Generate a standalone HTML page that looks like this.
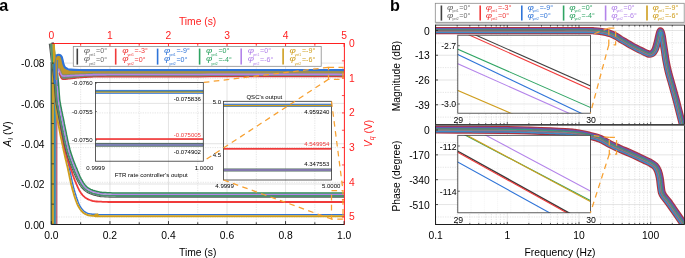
<!DOCTYPE html>
<html><head><meta charset="utf-8"><style>
html,body{margin:0;padding:0;background:#fff;}
body{width:685px;height:258px;overflow:hidden;}
svg{display:block;will-change:transform;}
</style></head><body>
<svg width="685" height="258" viewBox="0 0 685 258">
<rect width="685" height="258" fill="#fff"/>
<line x1="80.67" y1="43.50" x2="80.67" y2="224.50" stroke="#d2d2d2" stroke-width="0.6" stroke-dasharray="1.2,1.2"/>
<line x1="109.94" y1="43.50" x2="109.94" y2="224.50" stroke="#d2d2d2" stroke-width="0.6"/>
<line x1="139.21" y1="43.50" x2="139.21" y2="224.50" stroke="#d2d2d2" stroke-width="0.6" stroke-dasharray="1.2,1.2"/>
<line x1="168.48" y1="43.50" x2="168.48" y2="224.50" stroke="#d2d2d2" stroke-width="0.6"/>
<line x1="197.75" y1="43.50" x2="197.75" y2="224.50" stroke="#d2d2d2" stroke-width="0.6" stroke-dasharray="1.2,1.2"/>
<line x1="227.02" y1="43.50" x2="227.02" y2="224.50" stroke="#d2d2d2" stroke-width="0.6"/>
<line x1="256.29" y1="43.50" x2="256.29" y2="224.50" stroke="#d2d2d2" stroke-width="0.6" stroke-dasharray="1.2,1.2"/>
<line x1="285.56" y1="43.50" x2="285.56" y2="224.50" stroke="#d2d2d2" stroke-width="0.6"/>
<line x1="314.83" y1="43.50" x2="314.83" y2="224.50" stroke="#d2d2d2" stroke-width="0.6" stroke-dasharray="1.2,1.2"/>
<line x1="51.50" y1="184.00" x2="344.40" y2="184.00" stroke="#d2d2d2" stroke-width="0.6"/>
<line x1="51.50" y1="143.70" x2="344.40" y2="143.70" stroke="#d2d2d2" stroke-width="0.6"/>
<line x1="51.50" y1="103.40" x2="344.40" y2="103.40" stroke="#d2d2d2" stroke-width="0.6"/>
<line x1="51.50" y1="63.10" x2="344.40" y2="63.10" stroke="#d2d2d2" stroke-width="0.6"/>
<line x1="51.50" y1="78.20" x2="344.40" y2="78.20" stroke="#d2d2d2" stroke-width="0.6" stroke-dasharray="1.2,1.2"/>
<line x1="51.50" y1="112.90" x2="344.40" y2="112.90" stroke="#d2d2d2" stroke-width="0.6" stroke-dasharray="1.2,1.2"/>
<line x1="51.50" y1="147.60" x2="344.40" y2="147.60" stroke="#d2d2d2" stroke-width="0.6" stroke-dasharray="1.2,1.2"/>
<line x1="51.50" y1="182.30" x2="344.40" y2="182.30" stroke="#d2d2d2" stroke-width="0.6" stroke-dasharray="1.2,1.2"/>
<line x1="51.50" y1="217.00" x2="344.40" y2="217.00" stroke="#d2d2d2" stroke-width="0.6" stroke-dasharray="1.2,1.2"/>
<line x1="51.50" y1="43.50" x2="51.50" y2="224.50" stroke="#1e1e1e" stroke-width="1.0"/>
<rect x="50.5" y="62" width="1.30" height="162.50" fill="#3a6f6a"/>
<rect x="51.8" y="62" width="2.10" height="162.50" fill="#cf9e1e"/>
<rect x="53.9" y="62" width="2.00" height="162.50" fill="#3a8aa8"/>
<rect x="55.9" y="62" width="0.30" height="162.50" fill="#8a7a70"/>
<rect x="56.2" y="62" width="1.20" height="162.50" fill="#b04a62"/>
<path d="M52.4,43.4 52.5,44.3 52.5,45.5 52.6,46.8 52.7,48.3 52.9,49.9 53.0,51.6 53.1,53.3 53.2,55.1 53.4,56.9 53.5,58.7 53.7,60.4 53.8,61.9 53.9,63.4 54.1,65.0 54.2,66.5 54.4,68.0 54.6,69.5 54.7,71.0 54.9,72.5 55.0,74.0 55.2,75.5 55.3,77.0 55.5,78.5 55.6,79.9 55.7,81.4 55.8,83.0 55.9,84.5 56.0,86.1 56.1,87.6 56.2,89.1 56.2,90.6 56.3,92.1 56.4,93.4 56.5,94.7 56.5,95.9 56.6,96.9 56.7,98.6 56.8,99.7 56.9,100.5 57.0,101.3 57.1,102.3 57.3,103.9 57.4,104.9 57.5,105.9 57.6,107.0 57.7,108.1 57.8,109.2 57.9,110.5 58.1,111.8 58.2,113.2 58.4,114.7 58.6,116.3 58.9,118.0 59.2,119.9 59.5,121.9 60.0,124.2 60.4,126.6 60.9,129.2 61.5,131.9 62.0,134.6 62.6,137.3 63.1,140.1 63.7,142.7 64.2,145.3 64.7,147.6 65.2,149.8 65.6,151.9 66.0,153.8 66.5,155.6 66.9,157.4 67.3,159.1 67.7,160.8 68.0,162.3 68.4,163.9 68.8,165.4 69.1,166.9 69.5,168.4 69.8,169.8 70.1,171.3 70.4,172.6 70.7,173.9 70.9,175.2 71.2,176.4 71.4,177.7 71.6,178.8 71.9,180.0 72.1,181.2 72.4,182.4 72.7,183.6 73.0,184.8 73.3,186.1 73.6,187.4 74.0,188.7 74.3,190.0 74.7,191.3 75.1,192.7 75.5,193.9 75.9,195.2 76.2,196.4 76.6,197.6 77.0,198.7 77.4,199.7 77.9,201.2 78.4,202.5 78.9,203.7 79.4,204.8 79.9,205.8 80.5,206.8 81.0,207.7 81.6,208.5 82.4,209.4 83.1,210.3 83.8,211.0 84.6,211.6 85.4,212.2 86.3,212.7 87.3,213.2 88.2,213.5 89.1,213.7 90.0,213.9 91.0,214.0 92.2,214.2 93.5,214.2 95.1,214.3 97.0,214.4 97.9,214.5 97.8,216.1 97.2,216.1 96.3,216.2 95.5,216.2 95.6,214.7 95.5,214.6 97.0,214.6 99.8,214.6 104.4,214.6 111.0,214.6 120.0,214.6 132.3,214.6 148.3,214.6 167.1,214.6 188.1,214.6 210.5,214.6 233.5,214.6 256.4,214.6 278.6,214.6 299.1,214.6 317.4,214.6 332.6,214.6 344.1,214.6" stroke="#2f74d8" stroke-width="1.4" fill="none" stroke-linejoin="round" stroke-linecap="butt"/>
<path d="M50.8,43.6 50.9,44.5 50.9,45.6 51.0,46.9 51.2,48.4 51.3,50.0 51.4,51.7 51.5,53.4 51.7,55.2 51.8,57.0 51.9,58.8 52.1,60.5 52.2,62.1 52.3,63.6 52.5,65.1 52.6,66.6 52.8,68.2 53.0,69.7 53.1,71.2 53.3,72.7 53.4,74.2 53.6,75.7 53.7,77.1 53.9,78.6 54.0,80.1 54.1,81.5 54.2,83.1 54.3,84.6 54.4,86.2 54.5,87.7 54.6,89.2 54.6,90.7 54.7,92.2 54.8,93.5 54.9,94.8 54.9,96.0 55.0,97.1 55.1,98.7 55.2,99.8 55.3,100.6 55.4,101.5 55.5,102.5 55.7,104.1 55.8,105.1 55.9,106.1 56.0,107.1 56.1,108.2 56.2,109.4 56.3,110.6 56.5,112.0 56.6,113.4 56.8,114.9 57.0,116.5 57.3,118.3 57.6,120.1 58.0,122.2 58.4,124.5 58.9,126.9 59.4,129.5 59.9,132.2 60.4,134.9 61.0,137.7 61.6,140.4 62.1,143.0 62.7,145.6 63.2,148.0 63.6,150.2 64.1,152.2 64.5,154.1 64.9,156.0 65.3,157.8 65.7,159.5 66.1,161.1 66.5,162.7 66.8,164.3 67.2,165.8 67.6,167.3 67.9,168.7 68.2,170.2 68.5,171.6 68.8,173.0 69.1,174.3 69.3,175.5 69.6,176.8 69.8,178.0 70.1,179.2 70.3,180.3 70.6,181.5 70.8,182.7 71.1,184.0 71.4,185.2 71.8,186.5 72.1,187.8 72.4,189.1 72.8,190.4 73.2,191.8 73.6,193.1 73.9,194.4 74.3,195.7 74.7,196.9 75.1,198.1 75.5,199.2 75.8,200.3 76.4,201.7 76.9,203.1 77.4,204.3 78.0,205.5 78.5,206.6 79.1,207.6 79.7,208.6 80.4,209.5 81.1,210.5 81.9,211.3 82.7,212.2 83.6,212.9 84.5,213.6 85.6,214.1 86.7,214.6 87.7,215.0 88.7,215.3 89.8,215.5 90.8,215.6 92.1,215.7 93.4,215.8 95.1,215.9 97.0,216.0 97.7,216.0 97.7,214.5 97.1,214.5 96.2,214.6 95.5,214.6 94.7,216.1 95.5,216.2 97.0,216.2 99.8,216.2 104.4,216.2 111.0,216.2 120.0,216.2 132.3,216.2 148.3,216.2 167.1,216.2 188.1,216.2 210.5,216.2 233.5,216.2 256.4,216.2 278.6,216.2 299.1,216.2 317.4,216.2 332.6,216.2 344.1,216.2" stroke="#cf9e1e" stroke-width="1.9" fill="none" stroke-linejoin="round" stroke-linecap="butt"/>
<path d="M51.6,43.5 51.7,44.4 51.8,45.5 51.9,46.8 52.1,48.3 52.2,49.9 52.4,51.6 52.5,53.4 52.7,55.2 52.9,57.0 53.1,58.7 53.2,60.4 53.4,62.0 53.6,63.5 53.7,65.0 53.9,66.6 54.1,68.1 54.3,69.6 54.4,71.1 54.6,72.6 54.8,74.1 55.0,75.6 55.1,77.1 55.3,78.5 55.4,80.0 55.5,81.5 55.6,83.0 55.7,84.6 55.8,86.1 55.9,87.7 56.0,89.2 56.0,90.7 56.1,92.1 56.2,93.5 56.3,94.8 56.3,95.9 56.4,97.0 56.5,98.6 56.6,99.7 56.7,100.6 56.8,101.4 57.0,102.4 57.2,104.0 57.3,105.0 57.5,106.0 57.7,107.0 57.8,108.1 58.0,109.3 58.2,110.6 58.4,111.9 58.7,113.3 58.9,114.8 59.2,116.4 59.5,118.1 59.8,120.0 60.2,122.0 60.5,124.3 60.9,126.8 61.4,129.3 61.8,132.0 62.3,134.8 62.8,137.5 63.3,140.2 63.7,142.9 64.2,145.4 64.7,147.8 65.2,150.0 65.7,152.0 66.2,154.0 66.7,155.8 67.2,157.6 67.7,159.3 68.2,160.9 68.7,162.5 69.2,164.1 69.7,165.6 70.2,167.1 70.7,168.5 71.2,170.0 71.7,171.4 72.2,172.8 72.6,174.2 73.1,175.6 73.6,176.9 74.0,178.1 74.5,179.4 74.9,180.6 75.4,181.7 75.9,182.8 76.3,183.9 76.8,185.0 77.4,186.4 78.0,187.7 78.6,188.9 79.2,190.1 79.8,191.2 80.5,192.2 81.1,193.2 81.8,194.1 82.5,195.0 83.3,195.9 84.2,196.7 85.0,197.4 85.9,198.0 86.9,198.6 87.8,199.1 88.9,199.6 90.0,200.0 90.9,200.3 91.7,200.6 92.4,200.9 93.1,201.1 94.0,201.2 95.1,201.4 96.6,201.5 98.5,201.6 101.0,201.7 102.7,201.8 104.0,201.8 104.9,201.9 105.8,201.9 106.9,201.9 108.4,202.0 110.6,202.0 113.7,202.0 118.0,202.0 123.6,202.0 130.9,202.0 140.0,202.0 151.9,202.0 166.8,202.0 184.2,202.0 203.4,202.0 223.7,202.0 244.5,202.0 265.2,202.0 285.1,202.0 303.6,202.0 320.0,202.0 333.7,202.0 344.1,202.0" stroke="#f03a3a" stroke-width="1.8" fill="none" stroke-linejoin="round" stroke-linecap="butt"/>
<path d="M49.3,43.8 49.4,44.7 49.6,45.8 49.7,47.1 49.9,48.6 50.1,50.2 50.3,51.9 50.5,53.7 50.7,55.5 50.9,57.3 51.1,59.0 51.3,60.7 51.5,62.3 51.7,63.8 51.9,65.4 52.1,66.9 52.3,68.4 52.6,69.9 52.8,71.4 53.0,72.9 53.2,74.4 53.4,75.9 53.6,77.3 53.8,78.8 53.9,80.2 54.1,81.7 54.2,83.2 54.3,84.7 54.4,86.3 54.5,87.8 54.6,89.3 54.7,90.8 54.8,92.3 54.9,93.6 55.0,94.9 55.1,96.1 55.2,97.2 55.4,98.8 55.5,100.0 55.5,100.8 55.7,101.7 55.9,102.8 56.1,104.4 56.3,105.4 56.5,106.4 56.7,107.5 56.9,108.6 57.2,109.8 57.4,111.0 57.7,112.3 58.0,113.8 58.3,115.3 58.6,116.9 59.0,118.6 59.3,120.5 59.8,122.5 60.2,124.8 60.7,127.2 61.2,129.8 61.7,132.5 62.3,135.2 62.9,138.0 63.4,140.7 64.0,143.4 64.6,145.9 65.2,148.4 65.8,150.6 66.4,152.7 67.0,154.7 67.6,156.6 68.2,158.4 68.9,160.2 69.5,161.9 70.1,163.5 70.7,165.1 71.3,166.6 71.9,168.1 72.5,169.5 73.1,170.9 73.6,172.3 74.2,173.7 74.8,175.0 75.3,176.2 75.8,177.4 76.3,178.6 76.9,179.7 77.4,180.7 77.9,181.8 78.5,182.7 79.0,183.7 79.8,184.9 80.5,186.0 81.3,187.1 82.0,188.0 82.9,188.9 83.7,189.8 84.7,190.6 85.7,191.4 86.7,192.1 87.8,192.7 89.0,193.3 90.1,193.8 91.4,194.3 92.7,194.7 94.0,195.1 95.5,195.4 96.4,195.7 97.2,195.9 97.9,196.1 98.7,196.2 99.6,196.4 100.6,196.6 101.8,196.7 103.3,196.8 105.1,196.9 107.3,197.0 109.9,197.1 112.4,197.2 114.7,197.2 116.8,197.3 119.0,197.3 121.5,197.3 124.4,197.3 127.8,197.3 132.1,197.3 137.2,197.3 143.5,197.3 151.0,197.3 160.0,197.3 171.2,197.3 185.1,197.3 200.9,197.3 218.3,197.3 236.5,197.3 255.2,197.3 273.7,197.3 291.4,197.3 307.9,197.3 322.5,197.3 334.8,197.3 344.1,197.3" stroke="#555555" stroke-width="1.1" fill="none" stroke-linejoin="round" stroke-linecap="butt"/>
<path d="M50.7,43.6 50.8,44.5 50.9,45.6 51.1,46.9 51.3,48.4 51.5,50.0 51.7,51.7 51.9,53.5 52.1,55.3 52.3,57.1 52.5,58.8 52.7,60.5 52.9,62.1 53.1,63.6 53.3,65.2 53.5,66.7 53.7,68.2 54.0,69.7 54.2,71.2 54.4,72.7 54.6,74.2 54.8,75.7 55.0,77.2 55.1,78.6 55.3,80.1 55.5,81.6 55.6,83.1 55.7,84.6 55.8,86.2 55.9,87.7 56.0,89.2 56.1,90.7 56.2,92.2 56.3,93.5 56.4,94.8 56.5,96.0 56.6,97.1 56.8,98.7 56.8,99.8 56.9,100.7 57.1,101.5 57.2,102.6 57.5,104.2 57.7,105.1 57.9,106.1 58.1,107.2 58.3,108.3 58.5,109.5 58.8,110.7 59.0,112.1 59.3,113.5 59.6,115.0 60.0,116.6 60.3,118.3 60.7,120.2 61.1,122.2 61.6,124.5 62.1,126.9 62.6,129.5 63.1,132.2 63.7,134.9 64.2,137.7 64.8,140.4 65.4,143.1 66.0,145.6 66.6,148.0 67.1,150.2 67.7,152.3 68.3,154.3 68.9,156.2 69.5,158.0 70.2,159.7 70.8,161.4 71.4,163.0 72.0,164.6 72.6,166.1 73.2,167.6 73.8,169.0 74.4,170.3 74.9,171.8 75.5,173.1 76.0,174.4 76.6,175.7 77.1,176.9 77.6,178.0 78.1,179.1 78.6,180.1 79.2,181.1 79.7,182.0 80.2,183.0 81.0,184.1 81.7,185.2 82.4,186.2 83.1,187.1 83.9,188.0 84.7,188.8 85.5,189.5 86.5,190.2 87.5,190.9 88.5,191.5 89.6,192.0 90.7,192.5 91.8,193.0 93.1,193.4 94.4,193.7 95.8,194.1 96.7,194.3 97.5,194.5 98.3,194.7 99.0,194.9 99.8,195.0 100.8,195.2 102.0,195.3 103.4,195.4 105.2,195.5 107.3,195.6 110.0,195.7 112.5,195.8 114.7,195.8 116.8,195.9 119.0,195.9 121.5,195.9 124.4,195.9 127.8,195.9 132.1,195.9 137.2,195.9 143.5,195.9 151.0,195.9 160.0,195.9 171.2,195.9 185.1,195.9 200.9,195.9 218.3,195.9 236.5,195.9 255.2,195.9 273.7,195.9 291.4,195.9 307.9,195.9 322.5,195.9 334.8,195.9 344.1,195.9" stroke="#4a9070" stroke-width="2.0" fill="none" stroke-linejoin="round" stroke-linecap="butt"/>
<path d="M52.3,43.4 52.4,44.3 52.5,45.4 52.7,46.8 52.9,48.2 53.0,49.8 53.2,51.5 53.5,53.3 53.7,55.1 53.9,56.9 54.1,58.6 54.3,60.3 54.5,61.9 54.7,63.4 54.9,64.9 55.1,66.5 55.3,68.0 55.5,69.5 55.7,71.0 56.0,72.5 56.2,74.0 56.4,75.5 56.6,77.0 56.7,78.5 56.9,79.9 57.0,81.4 57.2,82.9 57.3,84.5 57.4,86.1 57.5,87.6 57.6,89.1 57.7,90.6 57.8,92.1 57.9,93.4 58.0,94.7 58.1,95.9 58.2,96.9 58.3,98.6 58.4,99.7 58.5,100.5 58.6,101.3 58.8,102.3 59.1,103.9 59.3,104.8 59.5,105.9 59.7,106.9 59.9,108.0 60.1,109.2 60.3,110.4 60.6,111.7 60.9,113.2 61.2,114.7 61.5,116.3 61.9,118.0 62.3,119.9 62.7,121.9 63.2,124.2 63.6,126.6 64.2,129.2 64.7,131.9 65.2,134.6 65.8,137.4 66.4,140.1 67.0,142.7 67.5,145.3 68.1,147.6 68.7,149.8 69.2,151.8 69.8,153.8 70.4,155.7 71.1,157.5 71.7,159.2 72.3,160.8 72.9,162.5 73.5,164.0 74.1,165.5 74.7,167.0 75.3,168.4 75.8,169.7 76.4,171.2 77.0,172.5 77.5,173.8 78.0,175.1 78.6,176.2 79.1,177.3 79.6,178.4 80.1,179.4 80.6,180.3 81.1,181.3 81.6,182.1 82.3,183.3 83.0,184.3 83.7,185.3 84.3,186.1 85.0,186.9 85.8,187.6 86.5,188.3 87.4,188.9 88.3,189.5 89.3,190.1 90.2,190.6 91.3,191.0 92.4,191.5 93.5,191.8 94.8,192.2 96.2,192.5 97.1,192.8 97.9,193.0 98.7,193.1 99.4,193.3 100.1,193.5 101.0,193.6 102.1,193.7 103.5,193.8 105.2,193.9 107.4,194.0 110.0,194.1 112.5,194.2 114.7,194.2 116.8,194.3 119.0,194.3 121.5,194.3 124.4,194.3 127.8,194.3 132.1,194.3 137.2,194.3 143.5,194.3 151.0,194.3 160.0,194.3 171.2,194.3 185.1,194.3 200.9,194.3 218.3,194.3 236.5,194.3 255.2,194.3 273.7,194.3 291.4,194.3 307.9,194.3 322.5,194.3 334.8,194.3 344.1,194.3" stroke="#b383ea" stroke-width="1.4" fill="none" stroke-linejoin="round" stroke-linecap="butt"/>
<path d="M53.6,43.3 53.7,44.2 53.8,45.3 54.0,46.6 54.1,48.1 54.3,49.7 54.5,51.4 54.7,53.2 55.0,54.9 55.2,56.7 55.4,58.5 55.6,60.2 55.8,61.7 56.0,63.3 56.2,64.8 56.4,66.3 56.6,67.8 56.8,69.3 57.0,70.8 57.2,72.3 57.5,73.8 57.7,75.3 57.8,76.8 58.0,78.3 58.2,79.8 58.3,81.3 58.5,82.8 58.6,84.4 58.7,86.0 58.8,87.5 58.9,89.1 59.0,90.5 59.1,92.0 59.2,93.3 59.3,94.6 59.4,95.8 59.5,96.8 59.6,98.5 59.7,99.5 59.8,100.3 59.9,101.1 60.1,102.1 60.4,103.6 60.5,104.6 60.7,105.6 60.9,106.7 61.1,107.8 61.4,108.9 61.6,110.2 61.9,111.5 62.2,112.9 62.5,114.4 62.8,116.0 63.2,117.7 63.6,119.6 64.0,121.6 64.4,123.9 64.9,126.4 65.4,128.9 66.0,131.6 66.5,134.4 67.1,137.1 67.6,139.8 68.2,142.4 68.8,145.0 69.4,147.3 69.9,149.5 70.5,151.5 71.1,153.4 71.7,155.2 72.3,157.0 72.9,158.7 73.5,160.4 74.1,162.0 74.7,163.5 75.3,165.0 75.9,166.5 76.5,167.9 77.1,169.3 77.6,170.7 78.2,172.0 78.7,173.3 79.2,174.5 79.7,175.7 80.2,176.8 80.7,177.8 81.2,178.8 81.7,179.7 82.2,180.6 82.7,181.5 83.4,182.6 84.1,183.6 84.7,184.5 85.3,185.3 86.0,186.0 86.6,186.6 87.4,187.3 88.2,187.9 89.0,188.4 89.9,189.0 90.8,189.4 91.8,189.8 92.8,190.2 93.9,190.6 95.1,190.9 96.5,191.3 97.4,191.5 98.3,191.7 99.0,191.9 99.6,192.0 100.3,192.2 101.2,192.3 102.2,192.4 103.6,192.5 105.3,192.6 107.4,192.7 110.1,192.8 112.5,192.9 114.7,192.9 116.9,193.0 119.1,193.0 121.5,193.0 124.4,193.0 127.8,193.0 132.1,193.0 137.2,193.0 143.5,193.0 151.0,193.0 160.0,193.0 171.2,193.0 185.1,193.0 200.9,193.0 218.3,193.0 236.5,193.0 255.2,193.0 273.7,193.0 291.4,193.0 307.9,193.0 322.5,193.0 334.8,193.0 344.1,193.0" stroke="#2f8a58" stroke-width="1.5" fill="none" stroke-linejoin="round" stroke-linecap="butt"/>
<path d="M54.60,80.00 C54.60,76.67 54.47,63.90 54.60,60.00 C54.73,56.10 54.93,57.43 55.40,56.60 C55.87,55.77 56.67,55.25 57.40,55.00 C58.13,54.75 59.12,54.83 59.80,55.10 C60.48,55.37 61.05,55.82 61.50,56.60 C61.95,57.38 62.20,58.63 62.50,59.80 C62.80,60.97 62.95,62.43 63.30,63.60 C63.65,64.77 64.02,65.97 64.60,66.80 C65.18,67.63 65.90,68.13 66.80,68.60 C67.70,69.07 67.80,69.37 70.00,69.60 C72.20,69.83 71.67,69.92 80.00,70.00 C88.33,70.08 75.98,70.08 120.00,70.10 C164.02,70.12 306.75,70.10 344.10,70.10 L344.1,74.5 L344.1,74.5 L336.9,74.4 L327.7,74.4 L316.7,74.4 L304.4,74.4 L291.0,74.4 L277.1,74.4 L262.8,74.4 L248.6,74.4 L234.9,74.4 L222.0,74.4 L210.2,74.4 L200.0,74.5 L190.9,74.5 L182.3,74.5 L174.2,74.5 L166.5,74.5 L159.3,74.5 L152.6,74.5 L146.2,74.5 L140.2,74.5 L134.6,74.5 L129.4,74.5 L124.5,74.5 L120.0,74.5 L116.0,74.5 L112.5,74.5 L109.6,74.5 L107.2,74.5 L105.2,74.6 L103.4,74.6 L101.9,74.6 L100.6,74.6 L99.3,74.6 L98.0,74.6 L96.6,74.7 L95.0,74.7 L93.4,74.7 L91.9,74.8 L90.4,74.8 L89.1,74.8 L87.8,74.9 L86.6,74.9 L85.4,75.0 L84.3,75.0 L83.2,75.1 L82.1,75.1 L81.0,75.2 L80.0,75.2 L78.5,75.3 L77.0,75.3 L75.6,75.4 L74.3,75.5 L73.1,75.5 L72.0,75.6 L70.9,75.6 L70.0,75.7 L68.5,75.8 L67.5,75.9 L66.8,76.0 L66.0,76.0 L65.0,76.0 L64.2,76.1 L63.5,76.0 L62.9,75.9 L62.3,75.7 L61.8,75.4 L61.3,74.9 L60.9,74.3 L60.5,73.6 L60.1,72.8 L59.8,71.9 L59.4,71.0 L59.0,70.1 L58.7,69.2 L58.4,68.6 L57.4,80 Z" fill="#c09628" stroke="none"/>
<path d="M58.4,68.6 58.7,69.2 59.0,70.1 59.4,71.0 59.8,71.9 60.1,72.8 60.5,73.6 60.9,74.3 61.3,74.9 61.8,75.4 62.3,75.7 62.9,75.9 63.5,76.0 64.2,76.1 65.0,76.0 66.0,76.0 66.8,76.0 67.5,75.9 68.5,75.8 70.0,75.7 70.9,75.6 72.0,75.6 73.1,75.5 74.3,75.5 75.6,75.4 77.0,75.3 78.5,75.3 80.0,75.2 81.0,75.2 82.1,75.1 83.2,75.1 84.3,75.0 85.4,75.0 86.6,74.9 87.8,74.9 89.1,74.8 90.4,74.8 91.9,74.8 93.4,74.7 95.0,74.7 96.6,74.7 98.0,74.6 99.3,74.6 100.6,74.6 101.9,74.6 103.4,74.6 105.2,74.6 107.2,74.5 109.6,74.5 112.5,74.5 116.0,74.5 120.0,74.5 124.5,74.5 129.4,74.5 134.6,74.5 140.2,74.5 146.2,74.5 152.6,74.5 159.3,74.5 166.5,74.5 174.2,74.5 182.3,74.5 190.9,74.5 200.0,74.5 210.2,74.4 222.0,74.4 234.9,74.4 248.6,74.4 262.8,74.4 277.1,74.4 291.0,74.4 304.4,74.4 316.7,74.4 327.7,74.4 336.9,74.4 344.1,74.5 L344.1,76.8 L336.9,76.7 L327.7,76.7 L316.7,76.7 L304.4,76.7 L291.0,76.7 L277.1,76.7 L262.8,76.7 L248.6,76.7 L234.9,76.7 L222.0,76.7 L210.2,76.7 L200.0,76.8 L190.9,76.8 L182.3,76.8 L174.2,76.8 L166.5,76.8 L159.3,76.8 L152.6,76.8 L146.2,76.8 L140.2,76.8 L134.6,76.8 L129.4,76.8 L124.5,76.8 L120.0,76.8 L116.0,76.8 L112.5,76.8 L109.6,76.8 L107.2,76.8 L105.2,76.8 L103.4,76.9 L101.9,76.9 L100.6,76.9 L99.3,76.9 L98.0,76.9 L96.6,77.0 L95.0,77.0 L93.4,77.0 L91.9,77.1 L90.4,77.1 L89.1,77.2 L87.8,77.2 L86.6,77.3 L85.4,77.4 L84.3,77.4 L83.2,77.5 L82.1,77.6 L81.0,77.6 L80.0,77.7 L78.5,77.8 L77.0,78.0 L75.7,78.1 L74.4,78.3 L73.2,78.4 L72.0,78.6 L71.0,78.7 L70.0,78.8 L68.6,79.0 L67.5,79.1 L66.6,79.2 L65.8,79.3 L65.0,79.4 L64.0,79.5 L63.2,79.4 L62.6,79.3 L62.1,79.1 L61.6,78.7 L61.2,78.2 L60.7,77.5 L60.3,76.6 L59.9,75.6 L59.6,74.8 L59.3,73.9 L59.1,73.1 L58.9,72.5 Z" fill="#6d8a74" stroke="none"/>
<path d="M54.60,60.00 C54.73,59.43 54.93,57.43 55.40,56.60 C55.87,55.77 56.67,55.25 57.40,55.00 C58.13,54.75 59.12,54.83 59.80,55.10 C60.48,55.37 61.05,55.82 61.50,56.60 C61.95,57.38 62.20,58.63 62.50,59.80 C62.80,60.97 62.95,62.43 63.30,63.60 C63.65,64.77 64.02,65.97 64.60,66.80 C65.18,67.63 65.90,68.13 66.80,68.60 C67.70,69.07 67.80,69.37 70.00,69.60 C72.20,69.83 71.67,69.92 80.00,70.00 C88.33,70.08 75.98,70.08 120.00,70.10 C164.02,70.12 306.75,70.10 344.10,70.10" stroke="#2f74d8" stroke-width="2.2" fill="none" stroke-linejoin="round" stroke-linecap="butt"/>
<path d="M59.6,68.1 59.9,68.7 60.2,69.6 60.6,70.5 61.0,71.4 61.3,72.3 61.7,73.0 62.0,73.6 62.3,74.1 62.6,74.4 62.9,74.5 63.2,74.6 63.7,74.7 64.3,74.8 65.0,74.7 65.9,74.7 66.7,74.7 67.4,74.6 68.4,74.5 69.9,74.4 70.9,74.3 71.9,74.3 73.0,74.2 74.2,74.2 75.6,74.1 76.9,74.0 78.4,74.0 79.9,73.9 81.0,73.9 82.0,73.8 83.1,73.8 84.2,73.7 85.3,73.7 86.5,73.6 87.7,73.6 89.0,73.5 90.4,73.5 91.8,73.5 93.4,73.4 95.0,73.4 96.5,73.4 97.9,73.3 99.2,73.3 100.5,73.3 101.9,73.3 103.4,73.3 105.2,73.3 107.2,73.2 109.6,73.2 112.5,73.2 116.0,73.2 120.0,73.2 124.5,73.2 129.4,73.2 134.6,73.2 140.2,73.2 146.2,73.2 152.6,73.2 159.3,73.2 166.5,73.2 174.2,73.2 182.3,73.2 190.9,73.2 200.0,73.2 210.2,73.1 222.0,73.1 234.9,73.1 248.6,73.1 262.8,73.1 277.1,73.1 291.0,73.1 304.4,73.1 316.7,73.1 327.7,73.1 336.9,73.1 344.1,73.2" stroke="#6f8f80" stroke-width="1.0" fill="none" stroke-linejoin="round" stroke-linecap="butt"/>
<path d="M58.4,68.6 58.7,69.2 59.0,70.1 59.4,71.0 59.8,71.9 60.1,72.8 60.5,73.6 60.9,74.3 61.3,74.9 61.8,75.4 62.3,75.7 62.9,75.9 63.5,76.0 64.2,76.1 65.0,76.0 66.0,76.0 66.8,76.0 67.5,75.9 68.5,75.8 70.0,75.7 70.9,75.6 72.0,75.6 73.1,75.5 74.3,75.5 75.6,75.4 77.0,75.3 78.5,75.3 80.0,75.2 81.0,75.2 82.1,75.1 83.2,75.1 84.3,75.0 85.4,75.0 86.6,74.9 87.8,74.9 89.1,74.8 90.4,74.8 91.9,74.8 93.4,74.7 95.0,74.7 96.6,74.7 98.0,74.6 99.3,74.6 100.6,74.6 101.9,74.6 103.4,74.6 105.2,74.6 107.2,74.5 109.6,74.5 112.5,74.5 116.0,74.5 120.0,74.5 124.5,74.5 129.4,74.5 134.6,74.5 140.2,74.5 146.2,74.5 152.6,74.5 159.3,74.5 166.5,74.5 174.2,74.5 182.3,74.5 190.9,74.5 200.0,74.5 210.2,74.4 222.0,74.4 234.9,74.4 248.6,74.4 262.8,74.4 277.1,74.4 291.0,74.4 304.4,74.4 316.7,74.4 327.7,74.4 336.9,74.4 344.1,74.5" stroke="#b383ea" stroke-width="1.7" fill="none" stroke-linejoin="round" stroke-linecap="butt"/>
<path d="M58.9,72.5 59.1,73.1 59.3,73.9 59.6,74.8 59.9,75.6 60.3,76.6 60.7,77.5 61.2,78.2 61.6,78.7 62.1,79.1 62.6,79.3 63.2,79.4 64.0,79.5 65.0,79.4 65.8,79.3 66.6,79.2 67.5,79.1 68.6,79.0 70.0,78.8 71.0,78.7 72.0,78.6 73.2,78.4 74.4,78.3 75.7,78.1 77.0,78.0 78.5,77.8 80.0,77.7 81.0,77.6 82.1,77.6 83.2,77.5 84.3,77.4 85.4,77.4 86.6,77.3 87.8,77.2 89.1,77.2 90.4,77.1 91.9,77.1 93.4,77.0 95.0,77.0 96.6,77.0 98.0,76.9 99.3,76.9 100.6,76.9 101.9,76.9 103.4,76.9 105.2,76.8 107.2,76.8 109.6,76.8 112.5,76.8 116.0,76.8 120.0,76.8 124.5,76.8 129.4,76.8 134.6,76.8 140.2,76.8 146.2,76.8 152.6,76.8 159.3,76.8 166.5,76.8 174.2,76.8 182.3,76.8 190.9,76.8 200.0,76.8 210.2,76.7 222.0,76.7 234.9,76.7 248.6,76.7 262.8,76.7 277.1,76.7 291.0,76.7 304.4,76.7 316.7,76.7 327.7,76.7 336.9,76.7 344.1,76.8" stroke="#d23c3c" stroke-width="1.2" fill="none" stroke-linejoin="round" stroke-linecap="butt"/>
<path d="M54.60,84.00 C54.60,80.00 54.60,64.00 54.60,60.00" stroke="#2f74d8" stroke-width="1.8" fill="none" stroke-linejoin="round" stroke-linecap="butt"/>
<line x1="57.50" y1="60.00" x2="57.50" y2="86.00" stroke="#5d7fa8" stroke-width="1.2"/>
<path d="M50.8,43.5 L51.5,43.5 L51.9,64 L50.8,64 Z" fill="#8a8a8a"/>
<path d="M51.5,43.5 L52.5,43.5 L53.0,64 L51.9,64 Z" fill="#2fa463"/>
<path d="M52.5,43.5 L54.8,43.5 L55.6,58 L54.2,64 L53.0,64 Z" fill="#cf9e1e"/>
<line x1="51.50" y1="224.50" x2="344.40" y2="224.50" stroke="#1e1e1e" stroke-width="1.0"/>
<line x1="52.00" y1="43.50" x2="344.80" y2="43.50" stroke="#ff2020" stroke-width="1.0"/>
<line x1="344.40" y1="43.50" x2="344.40" y2="224.90" stroke="#ff2020" stroke-width="1.0"/>
<line x1="51.40" y1="224.50" x2="51.40" y2="221.10" stroke="#262626" stroke-width="0.9"/>
<line x1="80.67" y1="224.50" x2="80.67" y2="222.30" stroke="#262626" stroke-width="0.9"/>
<line x1="80.67" y1="43.50" x2="80.67" y2="45.70" stroke="#ff2020" stroke-width="0.9"/>
<line x1="109.94" y1="224.50" x2="109.94" y2="221.10" stroke="#262626" stroke-width="0.9"/>
<line x1="109.94" y1="43.50" x2="109.94" y2="46.90" stroke="#ff2020" stroke-width="0.9"/>
<line x1="139.21" y1="224.50" x2="139.21" y2="222.30" stroke="#262626" stroke-width="0.9"/>
<line x1="139.21" y1="43.50" x2="139.21" y2="45.70" stroke="#ff2020" stroke-width="0.9"/>
<line x1="168.48" y1="224.50" x2="168.48" y2="221.10" stroke="#262626" stroke-width="0.9"/>
<line x1="168.48" y1="43.50" x2="168.48" y2="46.90" stroke="#ff2020" stroke-width="0.9"/>
<line x1="197.75" y1="224.50" x2="197.75" y2="222.30" stroke="#262626" stroke-width="0.9"/>
<line x1="197.75" y1="43.50" x2="197.75" y2="45.70" stroke="#ff2020" stroke-width="0.9"/>
<line x1="227.02" y1="224.50" x2="227.02" y2="221.10" stroke="#262626" stroke-width="0.9"/>
<line x1="227.02" y1="43.50" x2="227.02" y2="46.90" stroke="#ff2020" stroke-width="0.9"/>
<line x1="256.29" y1="224.50" x2="256.29" y2="222.30" stroke="#262626" stroke-width="0.9"/>
<line x1="256.29" y1="43.50" x2="256.29" y2="45.70" stroke="#ff2020" stroke-width="0.9"/>
<line x1="285.56" y1="224.50" x2="285.56" y2="221.10" stroke="#262626" stroke-width="0.9"/>
<line x1="285.56" y1="43.50" x2="285.56" y2="46.90" stroke="#ff2020" stroke-width="0.9"/>
<line x1="314.83" y1="224.50" x2="314.83" y2="222.30" stroke="#262626" stroke-width="0.9"/>
<line x1="314.83" y1="43.50" x2="314.83" y2="45.70" stroke="#ff2020" stroke-width="0.9"/>
<line x1="344.10" y1="224.50" x2="344.10" y2="221.10" stroke="#262626" stroke-width="0.9"/>
<line x1="344.10" y1="43.50" x2="344.10" y2="46.90" stroke="#ff2020" stroke-width="0.9"/>
<line x1="51.50" y1="224.30" x2="54.00" y2="224.30" stroke="#262626" stroke-width="0.8"/>
<line x1="51.50" y1="204.15" x2="54.00" y2="204.15" stroke="#262626" stroke-width="0.8"/>
<line x1="51.50" y1="184.00" x2="54.00" y2="184.00" stroke="#262626" stroke-width="0.8"/>
<line x1="51.50" y1="163.85" x2="54.00" y2="163.85" stroke="#262626" stroke-width="0.8"/>
<line x1="51.50" y1="143.70" x2="54.00" y2="143.70" stroke="#262626" stroke-width="0.8"/>
<line x1="51.50" y1="123.55" x2="54.00" y2="123.55" stroke="#262626" stroke-width="0.8"/>
<line x1="51.50" y1="103.40" x2="54.00" y2="103.40" stroke="#262626" stroke-width="0.8"/>
<line x1="51.50" y1="83.25" x2="54.00" y2="83.25" stroke="#262626" stroke-width="0.8"/>
<line x1="51.50" y1="63.10" x2="54.00" y2="63.10" stroke="#262626" stroke-width="0.8"/>
<line x1="51.50" y1="42.95" x2="54.00" y2="42.95" stroke="#262626" stroke-width="0.8"/>
<line x1="344.40" y1="43.50" x2="341.90" y2="43.50" stroke="#ff2020" stroke-width="0.8"/>
<line x1="344.40" y1="60.85" x2="341.90" y2="60.85" stroke="#ff2020" stroke-width="0.8"/>
<line x1="344.40" y1="78.20" x2="341.90" y2="78.20" stroke="#ff2020" stroke-width="0.8"/>
<line x1="344.40" y1="95.55" x2="341.90" y2="95.55" stroke="#ff2020" stroke-width="0.8"/>
<line x1="344.40" y1="112.90" x2="341.90" y2="112.90" stroke="#ff2020" stroke-width="0.8"/>
<line x1="344.40" y1="130.25" x2="341.90" y2="130.25" stroke="#ff2020" stroke-width="0.8"/>
<line x1="344.40" y1="147.60" x2="341.90" y2="147.60" stroke="#ff2020" stroke-width="0.8"/>
<line x1="344.40" y1="164.95" x2="341.90" y2="164.95" stroke="#ff2020" stroke-width="0.8"/>
<line x1="344.40" y1="182.30" x2="341.90" y2="182.30" stroke="#ff2020" stroke-width="0.8"/>
<line x1="344.40" y1="199.65" x2="341.90" y2="199.65" stroke="#ff2020" stroke-width="0.8"/>
<line x1="344.40" y1="217.00" x2="341.90" y2="217.00" stroke="#ff2020" stroke-width="0.8"/>
<text x="51.40" y="239.20" font-family='"Liberation Sans", sans-serif' font-size="10.3" text-anchor="middle" fill="#000" font-weight="normal" font-style="normal">0.0</text>
<text x="109.94" y="239.20" font-family='"Liberation Sans", sans-serif' font-size="10.3" text-anchor="middle" fill="#000" font-weight="normal" font-style="normal">0.2</text>
<text x="168.48" y="239.20" font-family='"Liberation Sans", sans-serif' font-size="10.3" text-anchor="middle" fill="#000" font-weight="normal" font-style="normal">0.4</text>
<text x="227.02" y="239.20" font-family='"Liberation Sans", sans-serif' font-size="10.3" text-anchor="middle" fill="#000" font-weight="normal" font-style="normal">0.6</text>
<text x="285.56" y="239.20" font-family='"Liberation Sans", sans-serif' font-size="10.3" text-anchor="middle" fill="#000" font-weight="normal" font-style="normal">0.8</text>
<text x="344.10" y="239.20" font-family='"Liberation Sans", sans-serif' font-size="10.3" text-anchor="middle" fill="#000" font-weight="normal" font-style="normal">1.0</text>
<text x="197.70" y="255.80" font-family='"Liberation Sans", sans-serif' font-size="10.3" text-anchor="middle" fill="#000" font-weight="normal" font-style="normal">Time (s)</text>
<text x="44.60" y="67.30" font-family='"Liberation Sans", sans-serif' font-size="10.3" text-anchor="end" fill="#000" font-weight="normal" font-style="normal">-0.08</text>
<text x="44.60" y="107.60" font-family='"Liberation Sans", sans-serif' font-size="10.3" text-anchor="end" fill="#000" font-weight="normal" font-style="normal">-0.06</text>
<text x="44.60" y="147.90" font-family='"Liberation Sans", sans-serif' font-size="10.3" text-anchor="end" fill="#000" font-weight="normal" font-style="normal">-0.04</text>
<text x="44.60" y="188.20" font-family='"Liberation Sans", sans-serif' font-size="10.3" text-anchor="end" fill="#000" font-weight="normal" font-style="normal">-0.02</text>
<text x="44.60" y="228.50" font-family='"Liberation Sans", sans-serif' font-size="10.3" text-anchor="end" fill="#000" font-weight="normal" font-style="normal">0.00</text>
<text x="51.40" y="38.70" font-family='"Liberation Sans", sans-serif' font-size="10.3" text-anchor="middle" fill="#ff2020" font-weight="normal" font-style="normal">0</text>
<text x="109.94" y="38.70" font-family='"Liberation Sans", sans-serif' font-size="10.3" text-anchor="middle" fill="#ff2020" font-weight="normal" font-style="normal">1</text>
<text x="168.48" y="38.70" font-family='"Liberation Sans", sans-serif' font-size="10.3" text-anchor="middle" fill="#ff2020" font-weight="normal" font-style="normal">2</text>
<text x="227.02" y="38.70" font-family='"Liberation Sans", sans-serif' font-size="10.3" text-anchor="middle" fill="#ff2020" font-weight="normal" font-style="normal">3</text>
<text x="285.56" y="38.70" font-family='"Liberation Sans", sans-serif' font-size="10.3" text-anchor="middle" fill="#ff2020" font-weight="normal" font-style="normal">4</text>
<text x="344.10" y="38.70" font-family='"Liberation Sans", sans-serif' font-size="10.3" text-anchor="middle" fill="#ff2020" font-weight="normal" font-style="normal">5</text>
<text x="197.60" y="24.70" font-family='"Liberation Sans", sans-serif' font-size="10.3" text-anchor="middle" fill="#ff2020" font-weight="normal" font-style="normal">Time (s)</text>
<text x="348.90" y="46.90" font-family='"Liberation Sans", sans-serif' font-size="10.3" text-anchor="start" fill="#ff2020" font-weight="normal" font-style="normal">0</text>
<text x="348.90" y="81.60" font-family='"Liberation Sans", sans-serif' font-size="10.3" text-anchor="start" fill="#ff2020" font-weight="normal" font-style="normal">1</text>
<text x="348.90" y="116.30" font-family='"Liberation Sans", sans-serif' font-size="10.3" text-anchor="start" fill="#ff2020" font-weight="normal" font-style="normal">2</text>
<text x="348.90" y="151.00" font-family='"Liberation Sans", sans-serif' font-size="10.3" text-anchor="start" fill="#ff2020" font-weight="normal" font-style="normal">3</text>
<text x="348.90" y="185.70" font-family='"Liberation Sans", sans-serif' font-size="10.3" text-anchor="start" fill="#ff2020" font-weight="normal" font-style="normal">4</text>
<text x="348.90" y="220.40" font-family='"Liberation Sans", sans-serif' font-size="10.3" text-anchor="start" fill="#ff2020" font-weight="normal" font-style="normal">5</text>
<text transform="translate(10.6,134) rotate(-90)" font-family='"Liberation Sans", sans-serif' font-size="10.3" text-anchor="middle" fill="#000"><tspan font-style="italic">A</tspan><tspan font-size="7" dy="2.2" font-style="italic">I</tspan><tspan dy="-2.2"> (V)</tspan></text>
<text transform="translate(372,133.5) rotate(-90)" font-family='"Liberation Sans", sans-serif' font-size="10.3" text-anchor="middle" fill="#ff2020"><tspan font-style="italic">V</tspan><tspan font-size="7" dy="2.2" font-style="italic">q</tspan><tspan dy="-2.2"> (V)</tspan></text>
<rect x="73.3" y="46.4" width="247.89999999999998" height="19.9" fill="#fff" stroke="#8a8a8a" stroke-width="0.8"/>
<line x1="77.30" y1="48.60" x2="77.30" y2="64.60" stroke="#404040" stroke-width="1.6"/>
<text transform="translate(83.80,52.65) scale(1.3,1)" font-family='"Liberation Sans", sans-serif' font-size="7.5" fill="#6a6a6a" font-style="italic">φ</text>
<text x="89.00" y="56.30" font-family='"Liberation Sans", sans-serif' font-size="4.3" fill="#6a6a6a" textLength="6.4" lengthAdjust="spacingAndGlyphs">yet1</text>
<text x="96.10" y="53.30" font-family='"Liberation Sans", sans-serif' font-size="7.1" fill="#6a6a6a">=0<tspan font-size="4.0" dy="-3.3" dx="0.4">o</tspan></text>
<text transform="translate(83.80,61.15) scale(1.3,1)" font-family='"Liberation Sans", sans-serif' font-size="7.5" fill="#6a6a6a" font-style="italic">φ</text>
<text x="89.00" y="64.80" font-family='"Liberation Sans", sans-serif' font-size="4.3" fill="#6a6a6a" textLength="6.4" lengthAdjust="spacingAndGlyphs">yet2</text>
<text x="96.10" y="61.80" font-family='"Liberation Sans", sans-serif' font-size="7.1" fill="#6a6a6a">=0<tspan font-size="4.0" dy="-3.3" dx="0.4">o</tspan></text>
<line x1="115.70" y1="48.60" x2="115.70" y2="64.60" stroke="#f03a3a" stroke-width="1.6"/>
<text transform="translate(122.20,52.65) scale(1.3,1)" font-family='"Liberation Sans", sans-serif' font-size="7.5" fill="#f03a3a" font-style="italic">φ</text>
<text x="127.40" y="56.30" font-family='"Liberation Sans", sans-serif' font-size="4.3" fill="#f03a3a" textLength="6.4" lengthAdjust="spacingAndGlyphs">yet1</text>
<text x="134.50" y="53.30" font-family='"Liberation Sans", sans-serif' font-size="7.1" fill="#f03a3a">=-3<tspan font-size="4.0" dy="-3.3" dx="0.4">o</tspan></text>
<text transform="translate(122.20,61.15) scale(1.3,1)" font-family='"Liberation Sans", sans-serif' font-size="7.5" fill="#f03a3a" font-style="italic">φ</text>
<text x="127.40" y="64.80" font-family='"Liberation Sans", sans-serif' font-size="4.3" fill="#f03a3a" textLength="6.4" lengthAdjust="spacingAndGlyphs">yet2</text>
<text x="134.50" y="61.80" font-family='"Liberation Sans", sans-serif' font-size="7.1" fill="#f03a3a">=0<tspan font-size="4.0" dy="-3.3" dx="0.4">o</tspan></text>
<line x1="157.60" y1="48.60" x2="157.60" y2="64.60" stroke="#2f74d8" stroke-width="1.6"/>
<text transform="translate(164.10,52.65) scale(1.3,1)" font-family='"Liberation Sans", sans-serif' font-size="7.5" fill="#2f74d8" font-style="italic">φ</text>
<text x="169.30" y="56.30" font-family='"Liberation Sans", sans-serif' font-size="4.3" fill="#2f74d8" textLength="6.4" lengthAdjust="spacingAndGlyphs">yet1</text>
<text x="176.40" y="53.30" font-family='"Liberation Sans", sans-serif' font-size="7.1" fill="#2f74d8">=-9<tspan font-size="4.0" dy="-3.3" dx="0.4">o</tspan></text>
<text transform="translate(164.10,61.15) scale(1.3,1)" font-family='"Liberation Sans", sans-serif' font-size="7.5" fill="#2f74d8" font-style="italic">φ</text>
<text x="169.30" y="64.80" font-family='"Liberation Sans", sans-serif' font-size="4.3" fill="#2f74d8" textLength="6.4" lengthAdjust="spacingAndGlyphs">yet2</text>
<text x="176.40" y="61.80" font-family='"Liberation Sans", sans-serif' font-size="7.1" fill="#2f74d8">=0<tspan font-size="4.0" dy="-3.3" dx="0.4">o</tspan></text>
<line x1="199.60" y1="48.60" x2="199.60" y2="64.60" stroke="#2fa463" stroke-width="1.6"/>
<text transform="translate(206.10,52.65) scale(1.3,1)" font-family='"Liberation Sans", sans-serif' font-size="7.5" fill="#2fa463" font-style="italic">φ</text>
<text x="211.30" y="56.30" font-family='"Liberation Sans", sans-serif' font-size="4.3" fill="#2fa463" textLength="6.4" lengthAdjust="spacingAndGlyphs">yet1</text>
<text x="218.40" y="53.30" font-family='"Liberation Sans", sans-serif' font-size="7.1" fill="#2fa463">=0<tspan font-size="4.0" dy="-3.3" dx="0.4">o</tspan></text>
<text transform="translate(206.10,61.15) scale(1.3,1)" font-family='"Liberation Sans", sans-serif' font-size="7.5" fill="#2fa463" font-style="italic">φ</text>
<text x="211.30" y="64.80" font-family='"Liberation Sans", sans-serif' font-size="4.3" fill="#2fa463" textLength="6.4" lengthAdjust="spacingAndGlyphs">yet2</text>
<text x="218.40" y="61.80" font-family='"Liberation Sans", sans-serif' font-size="7.1" fill="#2fa463">=-4<tspan font-size="4.0" dy="-3.3" dx="0.4">o</tspan></text>
<line x1="241.20" y1="48.60" x2="241.20" y2="64.60" stroke="#b383ea" stroke-width="1.6"/>
<text transform="translate(247.70,52.65) scale(1.3,1)" font-family='"Liberation Sans", sans-serif' font-size="7.5" fill="#b383ea" font-style="italic">φ</text>
<text x="252.90" y="56.30" font-family='"Liberation Sans", sans-serif' font-size="4.3" fill="#b383ea" textLength="6.4" lengthAdjust="spacingAndGlyphs">yet1</text>
<text x="260.00" y="53.30" font-family='"Liberation Sans", sans-serif' font-size="7.1" fill="#b383ea">=0<tspan font-size="4.0" dy="-3.3" dx="0.4">o</tspan></text>
<text transform="translate(247.70,61.15) scale(1.3,1)" font-family='"Liberation Sans", sans-serif' font-size="7.5" fill="#b383ea" font-style="italic">φ</text>
<text x="252.90" y="64.80" font-family='"Liberation Sans", sans-serif' font-size="4.3" fill="#b383ea" textLength="6.4" lengthAdjust="spacingAndGlyphs">yet2</text>
<text x="260.00" y="61.80" font-family='"Liberation Sans", sans-serif' font-size="7.1" fill="#b383ea">=-6<tspan font-size="4.0" dy="-3.3" dx="0.4">o</tspan></text>
<line x1="283.10" y1="48.60" x2="283.10" y2="64.60" stroke="#cf9e1e" stroke-width="1.6"/>
<text transform="translate(289.60,52.65) scale(1.3,1)" font-family='"Liberation Sans", sans-serif' font-size="7.5" fill="#cf9e1e" font-style="italic">φ</text>
<text x="294.80" y="56.30" font-family='"Liberation Sans", sans-serif' font-size="4.3" fill="#cf9e1e" textLength="6.4" lengthAdjust="spacingAndGlyphs">yet1</text>
<text x="301.90" y="53.30" font-family='"Liberation Sans", sans-serif' font-size="7.1" fill="#cf9e1e">=-9<tspan font-size="4.0" dy="-3.3" dx="0.4">o</tspan></text>
<text transform="translate(289.60,61.15) scale(1.3,1)" font-family='"Liberation Sans", sans-serif' font-size="7.5" fill="#cf9e1e" font-style="italic">φ</text>
<text x="294.80" y="64.80" font-family='"Liberation Sans", sans-serif' font-size="4.3" fill="#cf9e1e" textLength="6.4" lengthAdjust="spacingAndGlyphs">yet2</text>
<text x="301.90" y="61.80" font-family='"Liberation Sans", sans-serif' font-size="7.1" fill="#cf9e1e">=-6<tspan font-size="4.0" dy="-3.3" dx="0.4">o</tspan></text>
<rect x="95.50" y="89.90" width="107.80" height="1.00" fill="#2f74d8"/>
<rect x="95.50" y="90.90" width="107.80" height="0.90" fill="#3d6e52"/>
<rect x="95.50" y="91.80" width="107.80" height="1.00" fill="#cf9e1e"/>
<rect x="95.50" y="92.80" width="107.80" height="1.00" fill="#2f74d8"/>
<rect x="95.50" y="138.20" width="107.80" height="1.70" fill="#f03a3a"/>
<rect x="95.50" y="142.90" width="107.80" height="3.80" fill="#4f6a5a"/>
<rect x="95.50" y="143.80" width="107.80" height="2.10" fill="#7d80b5"/>
<rect x="95.50" y="82.50" width="107.80" height="78.70" stroke="#333" stroke-width="0.8" fill="none"/>
<text x="92.60" y="85.20" font-family='"Liberation Sans", sans-serif' font-size="6.05" text-anchor="end" fill="#000" font-weight="normal" font-style="normal">-0.0760</text>
<line x1="95.50" y1="83.10" x2="97.00" y2="83.10" stroke="#333" stroke-width="0.6"/>
<text x="92.60" y="113.70" font-family='"Liberation Sans", sans-serif' font-size="6.05" text-anchor="end" fill="#000" font-weight="normal" font-style="normal">-0.0755</text>
<line x1="95.50" y1="111.60" x2="97.00" y2="111.60" stroke="#333" stroke-width="0.6"/>
<text x="92.60" y="142.20" font-family='"Liberation Sans", sans-serif' font-size="6.05" text-anchor="end" fill="#000" font-weight="normal" font-style="normal">-0.0750</text>
<line x1="95.50" y1="140.10" x2="97.00" y2="140.10" stroke="#333" stroke-width="0.6"/>
<text x="200.90" y="100.50" font-family='"Liberation Sans", sans-serif' font-size="6.05" text-anchor="end" fill="#000" font-weight="normal" font-style="normal">-0.075836</text>
<text x="201.00" y="137.10" font-family='"Liberation Sans", sans-serif' font-size="6.05" text-anchor="end" fill="#f03a3a" font-weight="normal" font-style="normal">-0.075005</text>
<text x="201.00" y="153.70" font-family='"Liberation Sans", sans-serif' font-size="6.05" text-anchor="end" fill="#000" font-weight="normal" font-style="normal">-0.074902</text>
<text x="95.60" y="169.70" font-family='"Liberation Sans", sans-serif' font-size="6.05" text-anchor="middle" fill="#000" font-weight="normal" font-style="normal">0.9999</text>
<text x="204.00" y="169.70" font-family='"Liberation Sans", sans-serif' font-size="6.05" text-anchor="middle" fill="#000" font-weight="normal" font-style="normal">1.0000</text>
<text x="151.20" y="177.20" font-family='"Liberation Sans", sans-serif' font-size="6.05" text-anchor="middle" fill="#000" font-weight="normal" font-style="normal">FTR rate controller's output</text>
<rect x="223.50" y="103.80" width="108.00" height="1.10" fill="#2f74d8"/>
<rect x="223.50" y="104.90" width="108.00" height="1.20" fill="#cf9e1e"/>
<rect x="223.50" y="106.10" width="108.00" height="0.80" fill="#3f6f98"/>
<rect x="223.50" y="147.90" width="108.00" height="1.80" fill="#f03a3a"/>
<rect x="223.50" y="168.50" width="108.00" height="3.00" fill="#4f6a5a"/>
<rect x="223.50" y="169.30" width="108.00" height="1.40" fill="#9a7fd0"/>
<rect x="223.50" y="101.30" width="108.00" height="78.70" stroke="#333" stroke-width="0.8" fill="none"/>
<text x="264.30" y="99.20" font-family='"Liberation Sans", sans-serif' font-size="6.05" text-anchor="middle" fill="#000" font-weight="normal" font-style="normal">QSC's output</text>
<text x="221.10" y="104.00" font-family='"Liberation Sans", sans-serif' font-size="6.05" text-anchor="end" fill="#000" font-weight="normal" font-style="normal">5.0</text>
<text x="221.10" y="156.70" font-family='"Liberation Sans", sans-serif' font-size="6.05" text-anchor="end" fill="#000" font-weight="normal" font-style="normal">4.5</text>
<text x="329.40" y="113.60" font-family='"Liberation Sans", sans-serif' font-size="6.05" text-anchor="end" fill="#000" font-weight="normal" font-style="normal">4.959240</text>
<text x="329.40" y="145.90" font-family='"Liberation Sans", sans-serif' font-size="6.05" text-anchor="end" fill="#f03a3a" font-weight="normal" font-style="normal">4.549954</text>
<text x="329.40" y="166.10" font-family='"Liberation Sans", sans-serif' font-size="6.05" text-anchor="end" fill="#000" font-weight="normal" font-style="normal">4.347553</text>
<text x="224.60" y="187.90" font-family='"Liberation Sans", sans-serif' font-size="6.05" text-anchor="middle" fill="#000" font-weight="normal" font-style="normal">4.9999</text>
<text x="331.20" y="187.90" font-family='"Liberation Sans", sans-serif' font-size="6.05" text-anchor="middle" fill="#000" font-weight="normal" font-style="normal">5.0000</text>
<rect x="328.50" y="67.30" width="14.50" height="12.00" stroke="#f7a030" stroke-width="1.25" fill="none" stroke-dasharray="5.6,4.4"/>
<line x1="328.50" y1="67.30" x2="203.30" y2="82.50" stroke="#f7a030" stroke-width="1.25" stroke-dasharray="5.6,4.4"/>
<line x1="328.50" y1="79.30" x2="203.30" y2="161.20" stroke="#f7a030" stroke-width="1.25" stroke-dasharray="5.6,4.4"/>
<rect x="331.50" y="190.60" width="11.50" height="28.40" stroke="#f7a030" stroke-width="1.25" fill="none" stroke-dasharray="5.6,4.4"/>
<line x1="331.50" y1="101.30" x2="343.00" y2="190.60" stroke="#f7a030" stroke-width="1.25" stroke-dasharray="5.6,4.4"/>
<line x1="223.50" y1="180.00" x2="331.50" y2="219.00" stroke="#f7a030" stroke-width="1.25" stroke-dasharray="5.6,4.4"/>
<line x1="435.60" y1="25.00" x2="435.60" y2="124.50" stroke="#d2d2d2" stroke-width="0.6"/>
<line x1="435.60" y1="125.30" x2="435.60" y2="224.50" stroke="#d2d2d2" stroke-width="0.6"/>
<line x1="457.18" y1="25.00" x2="457.18" y2="124.50" stroke="#d2d2d2" stroke-width="0.6" stroke-dasharray="1.2,1.2"/>
<line x1="457.18" y1="125.30" x2="457.18" y2="224.50" stroke="#d2d2d2" stroke-width="0.6" stroke-dasharray="1.2,1.2"/>
<line x1="469.81" y1="25.00" x2="469.81" y2="124.50" stroke="#d2d2d2" stroke-width="0.6" stroke-dasharray="1.2,1.2"/>
<line x1="469.81" y1="125.30" x2="469.81" y2="224.50" stroke="#d2d2d2" stroke-width="0.6" stroke-dasharray="1.2,1.2"/>
<line x1="478.77" y1="25.00" x2="478.77" y2="124.50" stroke="#d2d2d2" stroke-width="0.6" stroke-dasharray="1.2,1.2"/>
<line x1="478.77" y1="125.30" x2="478.77" y2="224.50" stroke="#d2d2d2" stroke-width="0.6" stroke-dasharray="1.2,1.2"/>
<line x1="485.72" y1="25.00" x2="485.72" y2="124.50" stroke="#d2d2d2" stroke-width="0.6" stroke-dasharray="1.2,1.2"/>
<line x1="485.72" y1="125.30" x2="485.72" y2="224.50" stroke="#d2d2d2" stroke-width="0.6" stroke-dasharray="1.2,1.2"/>
<line x1="491.39" y1="25.00" x2="491.39" y2="124.50" stroke="#d2d2d2" stroke-width="0.6" stroke-dasharray="1.2,1.2"/>
<line x1="491.39" y1="125.30" x2="491.39" y2="224.50" stroke="#d2d2d2" stroke-width="0.6" stroke-dasharray="1.2,1.2"/>
<line x1="496.19" y1="25.00" x2="496.19" y2="124.50" stroke="#d2d2d2" stroke-width="0.6" stroke-dasharray="1.2,1.2"/>
<line x1="496.19" y1="125.30" x2="496.19" y2="224.50" stroke="#d2d2d2" stroke-width="0.6" stroke-dasharray="1.2,1.2"/>
<line x1="500.35" y1="25.00" x2="500.35" y2="124.50" stroke="#d2d2d2" stroke-width="0.6" stroke-dasharray="1.2,1.2"/>
<line x1="500.35" y1="125.30" x2="500.35" y2="224.50" stroke="#d2d2d2" stroke-width="0.6" stroke-dasharray="1.2,1.2"/>
<line x1="504.02" y1="25.00" x2="504.02" y2="124.50" stroke="#d2d2d2" stroke-width="0.6" stroke-dasharray="1.2,1.2"/>
<line x1="504.02" y1="125.30" x2="504.02" y2="224.50" stroke="#d2d2d2" stroke-width="0.6" stroke-dasharray="1.2,1.2"/>
<line x1="507.30" y1="25.00" x2="507.30" y2="124.50" stroke="#d2d2d2" stroke-width="0.6"/>
<line x1="507.30" y1="125.30" x2="507.30" y2="224.50" stroke="#d2d2d2" stroke-width="0.6"/>
<line x1="528.88" y1="25.00" x2="528.88" y2="124.50" stroke="#d2d2d2" stroke-width="0.6" stroke-dasharray="1.2,1.2"/>
<line x1="528.88" y1="125.30" x2="528.88" y2="224.50" stroke="#d2d2d2" stroke-width="0.6" stroke-dasharray="1.2,1.2"/>
<line x1="541.51" y1="25.00" x2="541.51" y2="124.50" stroke="#d2d2d2" stroke-width="0.6" stroke-dasharray="1.2,1.2"/>
<line x1="541.51" y1="125.30" x2="541.51" y2="224.50" stroke="#d2d2d2" stroke-width="0.6" stroke-dasharray="1.2,1.2"/>
<line x1="550.47" y1="25.00" x2="550.47" y2="124.50" stroke="#d2d2d2" stroke-width="0.6" stroke-dasharray="1.2,1.2"/>
<line x1="550.47" y1="125.30" x2="550.47" y2="224.50" stroke="#d2d2d2" stroke-width="0.6" stroke-dasharray="1.2,1.2"/>
<line x1="557.42" y1="25.00" x2="557.42" y2="124.50" stroke="#d2d2d2" stroke-width="0.6" stroke-dasharray="1.2,1.2"/>
<line x1="557.42" y1="125.30" x2="557.42" y2="224.50" stroke="#d2d2d2" stroke-width="0.6" stroke-dasharray="1.2,1.2"/>
<line x1="563.09" y1="25.00" x2="563.09" y2="124.50" stroke="#d2d2d2" stroke-width="0.6" stroke-dasharray="1.2,1.2"/>
<line x1="563.09" y1="125.30" x2="563.09" y2="224.50" stroke="#d2d2d2" stroke-width="0.6" stroke-dasharray="1.2,1.2"/>
<line x1="567.89" y1="25.00" x2="567.89" y2="124.50" stroke="#d2d2d2" stroke-width="0.6" stroke-dasharray="1.2,1.2"/>
<line x1="567.89" y1="125.30" x2="567.89" y2="224.50" stroke="#d2d2d2" stroke-width="0.6" stroke-dasharray="1.2,1.2"/>
<line x1="572.05" y1="25.00" x2="572.05" y2="124.50" stroke="#d2d2d2" stroke-width="0.6" stroke-dasharray="1.2,1.2"/>
<line x1="572.05" y1="125.30" x2="572.05" y2="224.50" stroke="#d2d2d2" stroke-width="0.6" stroke-dasharray="1.2,1.2"/>
<line x1="575.72" y1="25.00" x2="575.72" y2="124.50" stroke="#d2d2d2" stroke-width="0.6" stroke-dasharray="1.2,1.2"/>
<line x1="575.72" y1="125.30" x2="575.72" y2="224.50" stroke="#d2d2d2" stroke-width="0.6" stroke-dasharray="1.2,1.2"/>
<line x1="579.00" y1="25.00" x2="579.00" y2="124.50" stroke="#d2d2d2" stroke-width="0.6"/>
<line x1="579.00" y1="125.30" x2="579.00" y2="224.50" stroke="#d2d2d2" stroke-width="0.6"/>
<line x1="600.58" y1="25.00" x2="600.58" y2="124.50" stroke="#d2d2d2" stroke-width="0.6" stroke-dasharray="1.2,1.2"/>
<line x1="600.58" y1="125.30" x2="600.58" y2="224.50" stroke="#d2d2d2" stroke-width="0.6" stroke-dasharray="1.2,1.2"/>
<line x1="613.21" y1="25.00" x2="613.21" y2="124.50" stroke="#d2d2d2" stroke-width="0.6" stroke-dasharray="1.2,1.2"/>
<line x1="613.21" y1="125.30" x2="613.21" y2="224.50" stroke="#d2d2d2" stroke-width="0.6" stroke-dasharray="1.2,1.2"/>
<line x1="622.17" y1="25.00" x2="622.17" y2="124.50" stroke="#d2d2d2" stroke-width="0.6" stroke-dasharray="1.2,1.2"/>
<line x1="622.17" y1="125.30" x2="622.17" y2="224.50" stroke="#d2d2d2" stroke-width="0.6" stroke-dasharray="1.2,1.2"/>
<line x1="629.12" y1="25.00" x2="629.12" y2="124.50" stroke="#d2d2d2" stroke-width="0.6" stroke-dasharray="1.2,1.2"/>
<line x1="629.12" y1="125.30" x2="629.12" y2="224.50" stroke="#d2d2d2" stroke-width="0.6" stroke-dasharray="1.2,1.2"/>
<line x1="634.79" y1="25.00" x2="634.79" y2="124.50" stroke="#d2d2d2" stroke-width="0.6" stroke-dasharray="1.2,1.2"/>
<line x1="634.79" y1="125.30" x2="634.79" y2="224.50" stroke="#d2d2d2" stroke-width="0.6" stroke-dasharray="1.2,1.2"/>
<line x1="639.59" y1="25.00" x2="639.59" y2="124.50" stroke="#d2d2d2" stroke-width="0.6" stroke-dasharray="1.2,1.2"/>
<line x1="639.59" y1="125.30" x2="639.59" y2="224.50" stroke="#d2d2d2" stroke-width="0.6" stroke-dasharray="1.2,1.2"/>
<line x1="643.75" y1="25.00" x2="643.75" y2="124.50" stroke="#d2d2d2" stroke-width="0.6" stroke-dasharray="1.2,1.2"/>
<line x1="643.75" y1="125.30" x2="643.75" y2="224.50" stroke="#d2d2d2" stroke-width="0.6" stroke-dasharray="1.2,1.2"/>
<line x1="647.42" y1="25.00" x2="647.42" y2="124.50" stroke="#d2d2d2" stroke-width="0.6" stroke-dasharray="1.2,1.2"/>
<line x1="647.42" y1="125.30" x2="647.42" y2="224.50" stroke="#d2d2d2" stroke-width="0.6" stroke-dasharray="1.2,1.2"/>
<line x1="650.70" y1="25.00" x2="650.70" y2="124.50" stroke="#d2d2d2" stroke-width="0.6"/>
<line x1="650.70" y1="125.30" x2="650.70" y2="224.50" stroke="#d2d2d2" stroke-width="0.6"/>
<line x1="672.28" y1="25.00" x2="672.28" y2="124.50" stroke="#d2d2d2" stroke-width="0.6" stroke-dasharray="1.2,1.2"/>
<line x1="672.28" y1="125.30" x2="672.28" y2="224.50" stroke="#d2d2d2" stroke-width="0.6" stroke-dasharray="1.2,1.2"/>
<line x1="435.50" y1="30.50" x2="684.60" y2="30.50" stroke="#d2d2d2" stroke-width="0.6"/>
<line x1="435.50" y1="55.25" x2="684.60" y2="55.25" stroke="#d2d2d2" stroke-width="0.6"/>
<line x1="435.50" y1="80.00" x2="684.60" y2="80.00" stroke="#d2d2d2" stroke-width="0.6"/>
<line x1="435.50" y1="104.75" x2="684.60" y2="104.75" stroke="#d2d2d2" stroke-width="0.6"/>
<line x1="435.50" y1="42.88" x2="684.60" y2="42.88" stroke="#d2d2d2" stroke-width="0.6" stroke-dasharray="1.2,1.2"/>
<line x1="435.50" y1="67.62" x2="684.60" y2="67.62" stroke="#d2d2d2" stroke-width="0.6" stroke-dasharray="1.2,1.2"/>
<line x1="435.50" y1="92.38" x2="684.60" y2="92.38" stroke="#d2d2d2" stroke-width="0.6" stroke-dasharray="1.2,1.2"/>
<line x1="435.50" y1="117.12" x2="684.60" y2="117.12" stroke="#d2d2d2" stroke-width="0.6" stroke-dasharray="1.2,1.2"/>
<line x1="435.50" y1="130.00" x2="684.60" y2="130.00" stroke="#d2d2d2" stroke-width="0.6"/>
<line x1="435.50" y1="154.85" x2="684.60" y2="154.85" stroke="#d2d2d2" stroke-width="0.6"/>
<line x1="435.50" y1="179.70" x2="684.60" y2="179.70" stroke="#d2d2d2" stroke-width="0.6"/>
<line x1="435.50" y1="204.55" x2="684.60" y2="204.55" stroke="#d2d2d2" stroke-width="0.6"/>
<line x1="435.50" y1="142.43" x2="684.60" y2="142.43" stroke="#d2d2d2" stroke-width="0.6" stroke-dasharray="1.2,1.2"/>
<line x1="435.50" y1="167.28" x2="684.60" y2="167.28" stroke="#d2d2d2" stroke-width="0.6" stroke-dasharray="1.2,1.2"/>
<line x1="435.50" y1="192.12" x2="684.60" y2="192.12" stroke="#d2d2d2" stroke-width="0.6" stroke-dasharray="1.2,1.2"/>
<line x1="435.50" y1="216.98" x2="684.60" y2="216.98" stroke="#d2d2d2" stroke-width="0.6" stroke-dasharray="1.2,1.2"/>
<defs><clipPath id="cm"><rect x="435.5" y="25.0" width="249.10000000000002" height="99.5"/></clipPath><clipPath id="cp"><rect x="435.5" y="125.3" width="249.10000000000002" height="99.2"/></clipPath></defs>
<path d="M435.50,30.60 C446.25,30.60 479.25,30.60 500.00,30.60 C520.75,30.60 545.33,30.60 560.00,30.60 C574.67,30.60 582.33,30.57 588.00,30.60 C593.67,30.63 592.00,30.68 594.00,30.80 C596.00,30.92 598.00,31.03 600.00,31.30 C602.00,31.57 604.17,31.97 606.00,32.40 C607.83,32.83 609.33,33.25 611.00,33.90 C612.67,34.55 614.50,35.48 616.00,36.30 C617.50,37.12 618.67,37.98 620.00,38.80 C621.33,39.62 622.67,40.40 624.00,41.20 C625.33,42.00 626.67,42.82 628.00,43.60 C629.33,44.38 630.67,45.17 632.00,45.90 C633.33,46.63 634.67,47.32 636.00,48.00 C637.33,48.68 638.67,49.33 640.00,50.00 C641.33,50.67 642.83,51.43 644.00,52.00 C645.17,52.57 646.08,53.03 647.00,53.40 C647.92,53.77 648.75,54.13 649.50,54.20 C650.25,54.27 650.83,54.13 651.50,53.80 C652.17,53.47 652.83,53.07 653.50,52.20 C654.17,51.33 654.88,50.20 655.50,48.60 C656.12,47.00 656.68,44.60 657.20,42.60 C657.72,40.60 658.20,38.27 658.60,36.60 C659.00,34.93 659.30,33.53 659.60,32.60 C659.90,31.67 660.12,31.03 660.40,31.00 C660.68,30.97 660.98,31.48 661.30,32.40 C661.62,33.32 661.98,34.80 662.30,36.50 C662.62,38.20 662.82,40.10 663.20,42.60 C663.58,45.10 664.12,48.40 664.60,51.50 C665.08,54.60 665.47,57.78 666.10,61.20 C666.73,64.62 667.38,67.95 668.40,72.00 C669.42,76.05 670.90,80.83 672.20,85.50 C673.50,90.17 675.07,95.75 676.20,100.00 C677.33,104.25 678.07,107.33 679.00,111.00 C679.93,114.67 681.13,119.33 681.80,122.00 C682.47,124.67 682.80,126.17 683.00,127.00" stroke="#b0323e" stroke-width="7.3" fill="none" stroke-linejoin="round" clip-path="url(#cm)"/>
<path d="M435.5,28.6 437.0,28.6 438.6,28.6 440.5,28.6 442.6,28.6 444.8,28.6 447.2,28.6 449.7,28.6 452.4,28.6 455.2,28.6 458.0,28.6 461.0,28.6 464.0,28.6 467.1,28.6 470.2,28.6 473.3,28.6 476.4,28.6 479.6,28.6 482.7,28.6 485.7,28.6 488.8,28.6 491.7,28.6 494.6,28.6 497.3,28.6 500.0,28.6 502.6,28.6 505.3,28.6 507.9,28.6 510.6,28.6 513.3,28.6 516.1,28.6 518.8,28.6 521.5,28.6 524.2,28.6 526.9,28.6 529.6,28.6 532.3,28.6 534.9,28.6 537.5,28.6 540.0,28.6 542.5,28.6 545.0,28.6 547.4,28.6 549.7,28.6 551.9,28.6 554.1,28.6 556.1,28.6 558.1,28.6 560.0,28.6 562.1,28.6 564.2,28.6 566.1,28.6 568.0,28.6 569.8,28.6 571.4,28.6 573.0,28.6 574.6,28.6 576.0,28.6 577.4,28.6 578.7,28.6 579.9,28.6 581.1,28.6 582.2,28.6 583.3,28.6 584.3,28.6 585.3,28.6 586.2,28.6 587.1,28.6 588.0,28.6 590.3,28.7 591.7,28.7 592.5,28.7 593.0,28.8 593.4,28.8 594.1,28.8 595.1,28.9 596.1,29.0 597.2,29.0 598.2,29.1 599.2,29.2 600.3,29.4 601.3,29.5 602.4,29.7 603.4,29.9 604.5,30.1 605.5,30.3 606.4,30.5 607.5,30.8 608.6,31.0 609.6,31.3 610.7,31.7 611.7,32.1 612.8,32.5 613.9,33.0 614.9,33.5 616.0,34.1 616.9,34.6 617.9,35.1 618.7,35.6 619.5,36.2 620.3,36.7 621.0,37.1 621.8,37.6 622.6,38.1 623.4,38.6 624.2,39.0 625.0,39.5 625.8,40.0 626.6,40.5 627.4,41.0 628.2,41.4 629.0,41.9 629.8,42.4 630.6,42.8 631.4,43.3 632.2,43.8 632.9,44.2 633.7,44.6 634.5,45.0 635.3,45.4 636.1,45.9 636.9,46.3 637.9,46.8 638.9,47.3 639.9,47.8 640.9,48.3 641.9,48.8 642.9,49.3 643.9,49.8 644.9,50.2 645.7,50.6 646.4,51.0 647.1,51.3 647.7,51.6 648.6,51.9 649.2,52.2 649.7,52.3 650.0,52.3 650.3,52.2 650.6,52.0 651.1,51.8 651.5,51.5 652.0,51.0 652.4,50.4 652.8,49.7 653.3,48.9 653.7,47.9 653.9,47.1 654.2,46.2 654.5,45.2 654.8,44.2 655.0,43.1 655.3,42.1 655.6,41.1 655.8,40.1 656.0,39.0 656.3,38.0 656.5,37.0 656.7,36.2 657.0,35.0 657.2,33.9 657.5,32.9 657.7,32.0 658.1,31.1 658.5,30.1 660.1,29.1 662.1,29.8 662.7,30.8 663.1,31.7 663.4,32.7 663.7,33.7 664.0,34.9 664.2,36.1 664.4,37.1 664.5,38.0 664.7,39.0 664.8,40.0 665.0,41.1 665.1,42.3 665.3,43.3 665.4,44.3 665.6,45.4 665.8,46.5 666.0,47.7 666.2,48.8 666.3,50.0 666.5,51.2 666.7,52.4 666.9,53.6 667.1,54.8 667.2,55.9 667.4,57.2 667.6,58.4 667.8,59.6 668.0,60.8 668.2,62.0 668.4,63.1 668.7,64.2 668.9,65.4 669.1,66.5 669.4,67.7 669.7,69.0 670.0,70.2 670.3,71.5 670.6,72.6 670.9,73.8 671.2,74.9 671.5,76.1 671.9,77.4 672.3,78.6 672.6,79.9 673.0,81.1 673.4,82.4 673.7,83.7 674.1,85.0 674.4,86.2 674.8,87.4 675.1,88.6 675.4,89.9 675.8,91.1 676.1,92.4 676.5,93.6 676.8,94.9 677.2,96.1 677.5,97.3 677.8,98.4 678.1,99.5 678.5,100.9 678.8,102.2 679.1,103.4 679.4,104.7 679.7,105.8 680.0,107.0 680.3,108.1 680.6,109.3 680.9,110.5 681.2,111.8 681.5,113.1 681.9,114.4 682.2,115.7 682.6,117.0 682.9,118.3 683.2,119.5 683.5,120.6 683.7,121.5 684.1,123.0 684.4,124.2 684.6,125.2 684.8,126.0 684.9,126.6" stroke="#6656b0" stroke-width="1.35" fill="none" stroke-linejoin="round" clip-path="url(#cm)"/>
<path d="M435.5,29.9 437.0,29.9 438.6,29.9 440.5,29.9 442.6,29.9 444.8,29.9 447.2,29.9 449.7,29.9 452.4,29.9 455.2,29.9 458.0,29.9 461.0,29.9 464.0,29.9 467.1,29.9 470.2,29.9 473.3,29.9 476.4,29.9 479.6,29.9 482.7,29.9 485.7,29.9 488.8,29.9 491.7,29.9 494.6,29.9 497.3,29.9 500.0,29.9 502.6,29.9 505.3,29.9 507.9,29.9 510.6,29.9 513.3,29.9 516.1,29.9 518.8,29.9 521.5,29.9 524.2,29.9 526.9,29.9 529.6,29.9 532.3,29.9 534.9,29.9 537.5,29.9 540.0,29.9 542.5,29.9 545.0,29.9 547.4,29.9 549.7,29.9 551.9,29.9 554.1,29.9 556.1,29.9 558.1,29.9 560.0,29.9 562.1,29.9 564.2,29.9 566.1,29.9 568.0,29.9 569.8,29.9 571.4,29.9 573.0,29.9 574.6,29.9 576.0,29.9 577.4,29.9 578.7,29.9 579.9,29.9 581.1,29.9 582.2,29.9 583.3,29.9 584.3,29.9 585.3,29.9 586.2,29.9 587.1,29.9 588.0,29.9 590.3,30.0 591.6,30.0 592.4,30.0 592.9,30.1 593.3,30.1 594.0,30.1 595.0,30.2 596.0,30.3 597.1,30.3 598.1,30.4 599.1,30.5 600.1,30.7 601.1,30.8 602.1,31.0 603.2,31.1 604.2,31.3 605.2,31.5 606.1,31.8 607.2,32.0 608.2,32.3 609.2,32.6 610.2,32.9 611.2,33.3 612.3,33.7 613.3,34.2 614.4,34.7 615.4,35.2 616.3,35.7 617.2,36.2 618.0,36.7 618.8,37.3 619.6,37.8 620.3,38.2 621.1,38.7 621.9,39.2 622.7,39.7 623.5,40.2 624.3,40.6 625.1,41.1 625.9,41.6 626.7,42.1 627.5,42.6 628.3,43.0 629.1,43.5 629.9,44.0 630.7,44.4 631.5,44.9 632.3,45.3 633.1,45.8 633.9,46.2 634.7,46.6 635.5,47.0 636.3,47.4 637.3,47.9 638.3,48.4 639.3,48.9 640.3,49.4 641.3,49.9 642.4,50.5 643.4,51.0 644.3,51.4 645.1,51.8 645.9,52.2 646.6,52.5 647.2,52.8 648.1,53.1 648.9,53.4 649.6,53.6 650.1,53.6 650.7,53.4 651.2,53.2 651.8,52.9 652.4,52.4 653.0,51.8 653.5,51.1 654.0,50.4 654.4,49.4 654.9,48.4 655.2,47.5 655.5,46.6 655.8,45.6 656.0,44.5 656.3,43.5 656.6,42.4 656.8,41.4 657.1,40.4 657.3,39.3 657.5,38.3 657.8,37.3 658.0,36.5 658.2,35.3 658.5,34.2 658.7,33.2 659.0,32.4 659.3,31.5 659.6,30.9 660.3,30.4 661.2,30.7 661.6,31.3 661.9,32.2 662.2,33.0 662.4,34.0 662.7,35.1 662.9,36.4 663.1,37.3 663.2,38.2 663.4,39.2 663.5,40.2 663.7,41.3 663.8,42.5 664.0,43.5 664.2,44.5 664.3,45.6 664.5,46.7 664.7,47.9 664.9,49.1 665.1,50.2 665.2,51.4 665.4,52.6 665.6,53.7 665.8,54.9 665.9,56.1 666.1,57.3 666.3,58.6 666.5,59.8 666.7,61.1 667.0,62.2 667.2,63.4 667.4,64.5 667.6,65.6 667.9,66.8 668.1,68.0 668.4,69.3 668.7,70.5 669.0,71.8 669.3,73.0 669.6,74.1 670.0,75.3 670.3,76.5 670.6,77.7 671.0,79.0 671.4,80.2 671.7,81.5 672.1,82.8 672.5,84.0 672.8,85.3 673.2,86.5 673.5,87.7 673.8,89.0 674.2,90.2 674.5,91.5 674.9,92.7 675.2,94.0 675.6,95.2 675.9,96.4 676.2,97.6 676.5,98.7 676.8,99.8 677.2,101.2 677.5,102.5 677.9,103.8 678.2,105.0 678.5,106.1 678.7,107.3 679.0,108.5 679.3,109.6 679.6,110.8 680.0,112.1 680.3,113.4 680.6,114.7 681.0,116.1 681.3,117.4 681.6,118.6 681.9,119.8 682.2,120.9 682.4,121.8 682.8,123.3 683.1,124.5 683.3,125.5 683.5,126.3 683.6,126.9" stroke="#3a9a84" stroke-width="1.35" fill="none" stroke-linejoin="round" clip-path="url(#cm)"/>
<path d="M435.5,31.3 437.0,31.3 438.6,31.3 440.5,31.3 442.6,31.3 444.8,31.3 447.2,31.3 449.7,31.3 452.4,31.3 455.2,31.3 458.0,31.3 461.0,31.3 464.0,31.3 467.1,31.3 470.2,31.3 473.3,31.3 476.4,31.3 479.6,31.3 482.7,31.3 485.7,31.3 488.8,31.3 491.7,31.3 494.6,31.3 497.3,31.3 500.0,31.3 502.6,31.3 505.3,31.3 507.9,31.3 510.6,31.3 513.3,31.3 516.1,31.3 518.8,31.3 521.5,31.3 524.2,31.3 526.9,31.3 529.6,31.3 532.3,31.3 534.9,31.3 537.5,31.3 540.0,31.3 542.5,31.3 545.0,31.3 547.4,31.3 549.7,31.3 551.9,31.3 554.1,31.3 556.1,31.3 558.1,31.3 560.0,31.3 562.1,31.3 564.2,31.3 566.1,31.2 568.0,31.2 569.8,31.2 571.4,31.2 573.0,31.2 574.6,31.2 576.0,31.2 577.4,31.2 578.7,31.2 579.9,31.2 581.1,31.2 582.2,31.2 583.3,31.2 584.3,31.2 585.3,31.2 586.2,31.2 587.1,31.2 588.0,31.3 590.3,31.3 591.6,31.3 592.3,31.3 592.8,31.4 593.2,31.4 594.0,31.5 595.0,31.5 596.0,31.6 596.9,31.6 597.9,31.7 598.9,31.8 599.9,31.9 600.9,32.1 601.9,32.3 602.9,32.4 603.9,32.6 604.9,32.8 605.9,33.0 606.9,33.3 607.9,33.6 608.9,33.8 609.8,34.2 610.8,34.5 611.8,34.9 612.8,35.4 613.8,35.9 614.8,36.4 615.7,36.9 616.5,37.4 617.3,37.8 618.1,38.3 618.9,38.9 619.7,39.4 620.5,39.8 621.3,40.3 622.1,40.8 622.9,41.3 623.7,41.8 624.5,42.2 625.3,42.7 626.1,43.2 626.9,43.7 627.7,44.2 628.5,44.6 629.3,45.1 630.1,45.6 630.9,46.0 631.7,46.5 632.5,46.9 633.3,47.3 634.1,47.8 634.9,48.2 635.7,48.6 636.7,49.1 637.7,49.6 638.7,50.1 639.7,50.6 640.7,51.1 641.8,51.6 642.8,52.1 643.7,52.6 644.5,53.0 645.3,53.4 646.0,53.7 646.8,54.0 647.7,54.4 648.5,54.7 649.4,54.8 650.3,54.8 651.0,54.7 651.8,54.4 652.5,54.0 653.3,53.4 654.0,52.6 654.5,51.9 655.1,51.0 655.6,50.0 656.1,48.8 656.4,47.9 656.7,47.0 657.0,45.9 657.3,44.9 657.6,43.8 657.8,42.8 658.1,41.7 658.3,40.7 658.6,39.6 658.8,38.6 659.0,37.6 659.2,36.7 659.5,35.6 659.8,34.5 660.0,33.6 660.2,32.8 660.5,32.0 660.7,31.6 660.5,31.6 660.2,31.6 660.4,31.9 660.7,32.6 660.9,33.4 661.2,34.3 661.4,35.4 661.7,36.6 661.8,37.5 661.9,38.4 662.1,39.3 662.2,40.4 662.4,41.5 662.6,42.7 662.7,43.7 662.9,44.7 663.0,45.8 663.2,46.9 663.4,48.1 663.6,49.3 663.8,50.4 664.0,51.6 664.1,52.8 664.3,53.9 664.5,55.1 664.6,56.3 664.8,57.5 665.0,58.8 665.2,60.0 665.5,61.3 665.7,62.5 665.9,63.6 666.1,64.7 666.3,65.9 666.6,67.1 666.9,68.3 667.1,69.5 667.4,70.8 667.8,72.2 668.1,73.3 668.4,74.4 668.7,75.6 669.0,76.8 669.4,78.1 669.7,79.3 670.1,80.6 670.5,81.9 670.9,83.1 671.2,84.4 671.6,85.7 671.9,86.9 672.2,88.1 672.6,89.3 672.9,90.6 673.3,91.8 673.6,93.1 674.0,94.3 674.3,95.6 674.7,96.8 675.0,97.9 675.3,99.1 675.6,100.2 675.9,101.5 676.3,102.8 676.6,104.1 676.9,105.3 677.2,106.5 677.5,107.6 677.8,108.8 678.1,110.0 678.4,111.2 678.7,112.4 679.0,113.7 679.4,115.1 679.7,116.4 680.0,117.7 680.4,118.9 680.7,120.1 680.9,121.2 681.2,122.2 681.5,123.6 681.8,124.8 682.0,125.8 682.2,126.6 682.4,127.1" stroke="#8c7a86" stroke-width="1.35" fill="none" stroke-linejoin="round" clip-path="url(#cm)"/>
<path d="M435.5,32.6 437.0,32.6 438.6,32.6 440.5,32.6 442.6,32.6 444.8,32.6 447.2,32.6 449.7,32.6 452.4,32.6 455.2,32.6 458.0,32.6 461.0,32.6 464.0,32.6 467.1,32.6 470.2,32.6 473.3,32.6 476.4,32.6 479.6,32.6 482.7,32.6 485.7,32.6 488.8,32.6 491.7,32.6 494.6,32.6 497.3,32.6 500.0,32.6 502.6,32.6 505.3,32.6 507.9,32.6 510.6,32.6 513.3,32.6 516.1,32.6 518.8,32.6 521.5,32.6 524.2,32.6 526.9,32.6 529.6,32.6 532.3,32.6 534.9,32.6 537.5,32.6 540.0,32.6 542.5,32.6 545.0,32.6 547.4,32.6 549.7,32.6 551.9,32.6 554.1,32.6 556.1,32.6 558.1,32.6 560.0,32.6 562.1,32.6 564.2,32.6 566.1,32.6 568.0,32.6 569.8,32.6 571.4,32.5 573.0,32.5 574.6,32.5 576.0,32.5 577.4,32.5 578.7,32.5 579.9,32.5 581.1,32.5 582.2,32.5 583.3,32.5 584.3,32.5 585.3,32.5 586.2,32.5 587.1,32.6 588.0,32.6 590.3,32.6 591.6,32.6 592.3,32.6 592.6,32.7 593.1,32.7 593.9,32.8 594.9,32.8 595.9,32.9 596.8,32.9 597.8,33.0 598.8,33.1 599.7,33.2 600.7,33.4 601.7,33.5 602.7,33.7 603.7,33.9 604.6,34.1 605.6,34.3 606.6,34.6 607.5,34.8 608.5,35.1 609.4,35.4 610.3,35.7 611.2,36.1 612.2,36.6 613.2,37.0 614.2,37.5 615.1,38.0 615.9,38.5 616.6,38.9 617.4,39.4 618.2,39.9 619.0,40.5 619.8,41.0 620.6,41.4 621.4,41.9 622.2,42.4 623.0,42.9 623.8,43.4 624.6,43.8 625.4,44.3 626.2,44.8 627.0,45.3 627.8,45.8 628.6,46.2 629.4,46.7 630.2,47.2 631.1,47.6 631.9,48.1 632.7,48.5 633.5,48.9 634.3,49.3 635.1,49.7 636.1,50.3 637.1,50.8 638.1,51.3 639.1,51.7 640.1,52.3 641.2,52.8 642.2,53.3 643.1,53.8 644.0,54.2 644.8,54.5 645.5,54.9 646.3,55.2 647.2,55.6 648.2,55.9 649.3,56.1 650.4,56.1 651.4,55.9 652.4,55.6 653.2,55.1 654.2,54.4 655.0,53.4 655.6,52.6 656.2,51.6 656.8,50.6 657.3,49.3 657.7,48.4 658.0,47.3 658.3,46.3 658.6,45.2 658.8,44.1 659.1,43.1 659.4,42.0 659.6,41.0 659.9,39.9 660.1,38.9 660.3,37.9 660.5,37.0 660.8,35.9 661.0,34.8 661.3,33.9 661.5,33.2 661.7,32.5 661.8,32.3 660.7,32.9 659.3,32.5 659.2,32.5 659.5,33.1 659.7,33.7 659.9,34.6 660.1,35.7 660.4,36.9 660.5,37.7 660.7,38.6 660.8,39.5 660.9,40.6 661.1,41.7 661.3,42.9 661.4,43.9 661.6,44.9 661.8,46.0 661.9,47.1 662.1,48.3 662.3,49.5 662.5,50.6 662.7,51.8 662.8,53.0 663.0,54.1 663.2,55.3 663.4,56.5 663.5,57.7 663.7,59.0 663.9,60.3 664.2,61.6 664.4,62.7 664.6,63.8 664.8,65.0 665.1,66.2 665.3,67.4 665.6,68.6 665.9,69.8 666.2,71.1 666.5,72.5 666.8,73.6 667.1,74.8 667.4,76.0 667.8,77.2 668.1,78.4 668.5,79.7 668.9,80.9 669.2,82.2 669.6,83.5 670.0,84.8 670.3,86.0 670.6,87.2 671.0,88.4 671.3,89.7 671.7,90.9 672.0,92.2 672.4,93.4 672.7,94.7 673.1,95.9 673.4,97.1 673.7,98.3 674.0,99.4 674.3,100.5 674.7,101.9 675.0,103.2 675.3,104.4 675.6,105.6 675.9,106.8 676.2,107.9 676.5,109.1 676.8,110.3 677.1,111.5 677.4,112.7 677.8,114.0 678.1,115.4 678.4,116.7 678.8,118.0 679.1,119.3 679.4,120.4 679.7,121.5 679.9,122.5 680.3,123.9 680.6,125.1 680.8,126.1 681.0,126.9 681.1,127.4" stroke="#3d8cc8" stroke-width="1.35" fill="none" stroke-linejoin="round" clip-path="url(#cm)"/>
<path d="M435.50,129.60 C441.25,129.62 458.92,129.65 470.00,129.70 C481.08,129.75 492.00,129.77 502.00,129.90 C512.00,130.03 519.50,130.15 530.00,130.50 C540.50,130.85 556.67,131.48 565.00,132.00 C573.33,132.52 575.83,132.97 580.00,133.60 C584.17,134.23 586.67,134.95 590.00,135.80 C593.33,136.65 596.67,137.30 600.00,138.70 C603.33,140.10 606.67,142.52 610.00,144.20 C613.33,145.88 616.67,147.30 620.00,148.80 C623.33,150.30 626.67,151.70 630.00,153.20 C633.33,154.70 636.67,156.23 640.00,157.80 C643.33,159.37 647.50,161.23 650.00,162.60 C652.50,163.97 653.67,164.60 655.00,166.00 C656.33,167.40 657.20,169.00 658.00,171.00 C658.80,173.00 659.33,175.50 659.80,178.00 C660.27,180.50 660.47,183.62 660.80,186.00 C661.13,188.38 661.27,190.53 661.80,192.30 C662.33,194.07 662.97,195.07 664.00,196.60 C665.03,198.13 666.17,199.02 668.00,201.50 C669.83,203.98 672.58,208.00 675.00,211.50 C677.42,215.00 680.67,219.83 682.50,222.50 C684.33,225.17 685.42,226.67 686.00,227.50" stroke="#b0323e" stroke-width="8.0" fill="none" stroke-linejoin="round" clip-path="url(#cp)"/>
<path d="M435.5,127.5 436.3,127.5 437.2,127.5 438.2,127.5 439.3,127.5 440.5,127.5 441.8,127.5 443.1,127.5 444.5,127.5 446.0,127.5 447.6,127.5 449.1,127.5 450.8,127.5 452.4,127.5 454.1,127.5 455.7,127.5 457.4,127.5 459.1,127.5 460.7,127.5 462.4,127.5 464.0,127.5 465.6,127.5 467.1,127.5 468.6,127.6 470.0,127.6 471.5,127.6 472.9,127.6 474.3,127.6 475.8,127.6 477.2,127.6 478.6,127.6 480.1,127.6 481.5,127.6 482.9,127.6 484.3,127.6 485.7,127.6 487.1,127.6 488.5,127.6 489.9,127.6 491.3,127.7 492.7,127.7 494.0,127.7 495.4,127.7 496.7,127.7 498.1,127.7 499.4,127.7 500.7,127.7 502.0,127.8 503.5,127.8 505.0,127.8 506.4,127.8 507.8,127.8 509.2,127.9 510.5,127.9 511.9,127.9 513.2,127.9 514.5,128.0 515.9,128.0 517.2,128.0 518.5,128.0 519.9,128.1 521.3,128.1 522.7,128.1 524.1,128.2 525.5,128.2 527.0,128.3 528.5,128.3 530.1,128.4 531.4,128.4 532.8,128.5 534.3,128.5 535.7,128.6 537.3,128.6 538.8,128.7 540.4,128.7 542.0,128.8 543.6,128.9 545.2,128.9 546.8,129.0 548.4,129.0 550.0,129.1 551.6,129.2 553.1,129.2 554.7,129.3 556.1,129.4 557.6,129.5 559.0,129.5 560.4,129.6 561.6,129.7 562.9,129.7 564.0,129.8 565.1,129.9 567.1,130.0 568.9,130.1 570.5,130.2 571.9,130.4 573.1,130.5 574.3,130.6 575.4,130.8 576.4,130.9 577.4,131.0 578.3,131.2 579.3,131.3 580.3,131.5 581.9,131.7 583.3,132.0 584.6,132.3 585.8,132.5 587.0,132.8 588.1,133.1 589.3,133.4 590.5,133.7 591.8,134.0 593.0,134.3 594.3,134.6 595.6,135.0 596.9,135.3 598.2,135.7 599.5,136.2 600.8,136.7 602.0,137.3 603.2,137.9 604.4,138.5 605.5,139.2 606.7,139.8 607.8,140.5 608.8,141.1 609.9,141.7 611.0,142.3 612.1,142.8 613.1,143.4 614.2,143.9 615.3,144.4 616.4,144.9 617.5,145.4 618.6,145.9 619.8,146.3 620.9,146.8 622.0,147.3 623.1,147.8 624.2,148.3 625.3,148.8 626.4,149.3 627.5,149.8 628.6,150.3 629.8,150.7 630.9,151.2 632.0,151.7 633.1,152.3 634.2,152.8 635.3,153.3 636.5,153.8 637.6,154.3 638.7,154.8 639.8,155.3 640.9,155.9 642.0,156.4 643.2,156.9 644.4,157.5 645.6,158.1 646.8,158.6 648.0,159.2 649.1,159.7 650.1,160.2 651.0,160.7 652.2,161.4 653.2,161.9 654.1,162.5 655.0,163.1 655.8,163.8 656.6,164.5 657.4,165.5 658.2,166.6 658.9,167.8 659.5,169.0 660.0,170.2 660.4,171.4 660.8,172.6 661.1,173.8 661.4,175.1 661.7,176.3 661.9,177.6 662.1,178.8 662.3,180.0 662.4,181.2 662.5,182.4 662.7,183.6 662.8,184.7 662.9,185.7 663.1,186.9 663.2,188.0 663.3,189.1 663.5,190.1 663.7,190.9 663.9,191.7 664.1,192.5 664.4,193.2 664.8,193.9 665.2,194.6 665.8,195.4 666.2,196.0 666.7,196.6 667.3,197.3 668.0,198.1 668.8,199.0 669.7,200.2 670.3,201.0 670.9,201.9 671.6,202.9 672.3,203.9 673.0,204.9 673.8,206.0 674.5,207.0 675.3,208.1 676.0,209.2 676.8,210.3 677.5,211.4 678.3,212.5 679.1,213.7 679.9,214.9 680.7,216.1 681.5,217.3 682.3,218.4 683.0,219.5 683.7,220.4 684.3,221.3 685.1,222.5 685.8,223.6 686.5,224.5 687.0,225.2 687.4,225.8 687.8,226.3" stroke="#6656b0" stroke-width="1.48" fill="none" stroke-linejoin="round" clip-path="url(#cp)"/>
<path d="M435.5,128.9 436.3,128.9 437.2,128.9 438.2,128.9 439.3,128.9 440.5,128.9 441.8,128.9 443.1,128.9 444.5,128.9 446.0,128.9 447.6,128.9 449.1,128.9 450.8,128.9 452.4,128.9 454.1,128.9 455.7,128.9 457.4,128.9 459.1,128.9 460.7,129.0 462.4,129.0 464.0,129.0 465.6,129.0 467.1,129.0 468.6,129.0 470.0,129.0 471.4,129.0 472.9,129.0 474.3,129.0 475.8,129.0 477.2,129.0 478.6,129.0 480.1,129.0 481.5,129.0 482.9,129.0 484.3,129.0 485.7,129.1 487.1,129.1 488.5,129.1 489.9,129.1 491.3,129.1 492.6,129.1 494.0,129.1 495.4,129.1 496.7,129.1 498.0,129.1 499.4,129.2 500.7,129.2 502.0,129.2 503.5,129.2 504.9,129.2 506.4,129.2 507.8,129.3 509.1,129.3 510.5,129.3 511.8,129.3 513.2,129.4 514.5,129.4 515.8,129.4 517.2,129.4 518.5,129.5 519.9,129.5 521.2,129.5 522.6,129.6 524.0,129.6 525.5,129.6 527.0,129.7 528.5,129.7 530.0,129.8 531.4,129.8 532.8,129.9 534.2,129.9 535.7,130.0 537.2,130.0 538.8,130.1 540.3,130.2 541.9,130.2 543.5,130.3 545.1,130.3 546.7,130.4 548.3,130.5 549.9,130.5 551.5,130.6 553.1,130.7 554.6,130.7 556.1,130.8 557.5,130.9 558.9,131.0 560.3,131.0 561.6,131.1 562.8,131.2 564.0,131.2 565.0,131.3 567.0,131.4 568.8,131.5 570.3,131.7 571.7,131.8 573.0,131.9 574.1,132.0 575.2,132.2 576.2,132.3 577.2,132.4 578.1,132.6 579.1,132.7 580.1,132.9 581.6,133.1 583.0,133.4 584.3,133.7 585.5,133.9 586.6,134.2 587.8,134.5 589.0,134.8 590.2,135.1 591.4,135.4 592.7,135.7 593.9,136.0 595.2,136.4 596.5,136.7 597.7,137.1 599.0,137.5 600.3,138.0 601.4,138.6 602.6,139.1 603.7,139.8 604.8,140.4 605.9,141.1 607.0,141.7 608.1,142.4 609.2,143.0 610.3,143.6 611.4,144.1 612.5,144.6 613.6,145.2 614.7,145.7 615.8,146.2 617.0,146.7 618.1,147.2 619.2,147.7 620.3,148.1 621.4,148.6 622.5,149.1 623.6,149.6 624.7,150.1 625.8,150.6 627.0,151.1 628.1,151.6 629.2,152.1 630.3,152.5 631.4,153.1 632.5,153.6 633.6,154.1 634.7,154.6 635.9,155.1 637.0,155.6 638.1,156.1 639.2,156.6 640.3,157.2 641.4,157.7 642.6,158.2 643.8,158.8 645.0,159.3 646.2,159.9 647.3,160.5 648.4,161.0 649.4,161.5 650.3,162.0 651.5,162.6 652.5,163.2 653.3,163.7 654.1,164.2 654.8,164.8 655.5,165.5 656.3,166.4 657.0,167.4 657.6,168.4 658.2,169.5 658.7,170.7 659.1,171.8 659.4,173.0 659.7,174.1 660.0,175.4 660.3,176.6 660.5,177.9 660.7,179.0 660.9,180.2 661.0,181.4 661.1,182.6 661.2,183.7 661.4,184.9 661.5,185.9 661.7,187.1 661.8,188.2 661.9,189.3 662.1,190.3 662.3,191.2 662.5,192.1 662.8,193.0 663.2,193.8 663.6,194.6 664.0,195.3 664.6,196.2 665.1,196.9 665.6,197.5 666.2,198.2 666.9,199.0 667.7,199.9 668.6,201.1 669.2,201.9 669.8,202.7 670.4,203.7 671.1,204.7 671.9,205.7 672.6,206.8 673.4,207.9 674.1,208.9 674.9,210.0 675.6,211.1 676.3,212.2 677.1,213.3 677.9,214.5 678.7,215.7 679.6,216.9 680.4,218.1 681.1,219.2 681.8,220.3 682.5,221.2 683.1,222.1 683.9,223.3 684.7,224.4 685.3,225.3 685.8,226.0 686.2,226.6 686.6,227.1" stroke="#3a9a84" stroke-width="1.48" fill="none" stroke-linejoin="round" clip-path="url(#cp)"/>
<path d="M435.5,130.3 436.3,130.3 437.2,130.3 438.2,130.3 439.3,130.3 440.5,130.3 441.8,130.3 443.1,130.3 444.5,130.3 446.0,130.3 447.6,130.3 449.1,130.3 450.7,130.4 452.4,130.4 454.1,130.4 455.7,130.4 457.4,130.4 459.1,130.4 460.7,130.4 462.4,130.4 464.0,130.4 465.6,130.4 467.1,130.4 468.6,130.4 470.0,130.4 471.4,130.4 472.9,130.4 474.3,130.4 475.8,130.4 477.2,130.4 478.6,130.4 480.0,130.5 481.5,130.5 482.9,130.5 484.3,130.5 485.7,130.5 487.1,130.5 488.5,130.5 489.9,130.5 491.3,130.5 492.6,130.5 494.0,130.5 495.3,130.5 496.7,130.6 498.0,130.6 499.4,130.6 500.7,130.6 502.0,130.6 503.5,130.6 504.9,130.7 506.3,130.7 507.7,130.7 509.1,130.7 510.5,130.7 511.8,130.8 513.1,130.8 514.5,130.8 515.8,130.8 517.1,130.9 518.5,130.9 519.8,130.9 521.2,131.0 522.6,131.0 524.0,131.0 525.4,131.1 526.9,131.1 528.4,131.2 530.0,131.2 531.3,131.3 532.7,131.3 534.2,131.4 535.6,131.4 537.2,131.5 538.7,131.5 540.3,131.6 541.9,131.6 543.5,131.7 545.1,131.8 546.7,131.8 548.3,131.9 549.9,132.0 551.4,132.0 553.0,132.1 554.5,132.2 556.0,132.2 557.5,132.3 558.9,132.4 560.2,132.4 561.5,132.5 562.7,132.6 563.9,132.6 565.0,132.7 566.9,132.8 568.7,133.0 570.2,133.1 571.6,133.2 572.8,133.3 574.0,133.5 575.0,133.6 576.0,133.7 577.0,133.9 577.9,134.0 578.9,134.2 579.9,134.3 581.4,134.5 582.7,134.8 584.0,135.0 585.2,135.3 586.3,135.6 587.4,135.9 588.6,136.2 589.8,136.5 591.1,136.8 592.3,137.1 593.6,137.4 594.8,137.7 596.0,138.1 597.3,138.5 598.5,138.9 599.7,139.4 600.8,139.8 601.9,140.4 603.0,141.0 604.1,141.6 605.2,142.3 606.3,143.0 607.4,143.6 608.5,144.2 609.7,144.8 610.8,145.4 611.9,145.9 613.0,146.5 614.1,147.0 615.3,147.5 616.4,148.0 617.5,148.5 618.6,149.0 619.7,149.5 620.8,149.9 621.9,150.4 623.0,150.9 624.2,151.4 625.3,151.9 626.4,152.4 627.5,152.9 628.6,153.4 629.7,153.9 630.8,154.4 631.9,154.9 633.0,155.4 634.1,155.9 635.3,156.4 636.4,156.9 637.5,157.4 638.6,157.9 639.7,158.4 640.8,159.0 642.0,159.5 643.2,160.1 644.4,160.6 645.6,161.2 646.7,161.7 647.8,162.3 648.8,162.8 649.7,163.2 650.8,163.9 651.7,164.4 652.5,164.9 653.2,165.4 653.9,165.9 654.5,166.5 655.2,167.3 655.8,168.2 656.4,169.1 656.9,170.1 657.3,171.3 657.7,172.3 658.0,173.3 658.3,174.5 658.6,175.7 658.9,176.9 659.1,178.1 659.3,179.2 659.4,180.4 659.6,181.5 659.7,182.7 659.8,183.9 660.0,185.0 660.1,186.1 660.2,187.3 660.4,188.4 660.5,189.5 660.7,190.5 660.9,191.5 661.1,192.5 661.5,193.5 661.9,194.4 662.3,195.3 662.8,196.1 663.4,197.0 664.0,197.8 664.5,198.5 665.2,199.2 665.8,199.9 666.6,200.8 667.4,201.9 668.0,202.7 668.6,203.6 669.3,204.5 670.0,205.5 670.7,206.5 671.4,207.6 672.2,208.7 672.9,209.8 673.7,210.8 674.4,211.9 675.2,213.0 675.9,214.1 676.7,215.3 677.6,216.5 678.4,217.7 679.2,218.9 679.9,220.0 680.7,221.1 681.3,222.0 681.9,222.9 682.8,224.1 683.5,225.2 684.1,226.1 684.7,226.8 685.1,227.4 685.4,227.9" stroke="#8c7a86" stroke-width="1.48" fill="none" stroke-linejoin="round" clip-path="url(#cp)"/>
<path d="M435.5,131.7 436.3,131.7 437.2,131.7 438.2,131.7 439.3,131.8 440.5,131.8 441.8,131.8 443.1,131.8 444.5,131.8 446.0,131.8 447.6,131.8 449.1,131.8 450.7,131.8 452.4,131.8 454.0,131.8 455.7,131.8 457.4,131.8 459.1,131.8 460.7,131.8 462.4,131.8 464.0,131.8 465.6,131.8 467.1,131.8 468.6,131.8 470.0,131.8 471.4,131.8 472.9,131.9 474.3,131.9 475.8,131.9 477.2,131.9 478.6,131.9 480.0,131.9 481.5,131.9 482.9,131.9 484.3,131.9 485.7,131.9 487.1,131.9 488.5,131.9 489.9,131.9 491.2,131.9 492.6,131.9 494.0,132.0 495.3,132.0 496.7,132.0 498.0,132.0 499.3,132.0 500.7,132.0 502.0,132.0 503.5,132.1 504.9,132.1 506.3,132.1 507.7,132.1 509.1,132.1 510.4,132.2 511.8,132.2 513.1,132.2 514.4,132.2 515.8,132.3 517.1,132.3 518.4,132.3 519.8,132.3 521.2,132.4 522.5,132.4 524.0,132.5 525.4,132.5 526.9,132.5 528.4,132.6 529.9,132.6 531.3,132.7 532.7,132.7 534.1,132.8 535.6,132.8 537.1,132.9 538.6,133.0 540.2,133.0 541.8,133.1 543.4,133.1 545.0,133.2 546.6,133.3 548.2,133.3 549.8,133.4 551.4,133.5 552.9,133.5 554.5,133.6 555.9,133.7 557.4,133.7 558.8,133.8 560.1,133.9 561.4,133.9 562.6,134.0 563.8,134.1 564.9,134.1 566.8,134.3 568.6,134.4 570.1,134.5 571.5,134.6 572.7,134.8 573.8,134.9 574.8,135.0 575.8,135.1 576.8,135.3 577.7,135.4 578.7,135.6 579.7,135.7 581.1,136.0 582.4,136.2 583.7,136.4 584.8,136.7 586.0,137.0 587.1,137.3 588.3,137.6 589.5,137.9 590.7,138.2 592.0,138.5 593.2,138.8 594.4,139.1 595.6,139.4 596.8,139.8 598.0,140.2 599.2,140.7 600.2,141.1 601.2,141.7 602.3,142.2 603.4,142.9 604.5,143.5 605.6,144.2 606.7,144.8 607.9,145.5 609.0,146.1 610.2,146.7 611.3,147.2 612.4,147.8 613.6,148.3 614.7,148.8 615.8,149.3 616.9,149.8 618.0,150.3 619.1,150.8 620.2,151.3 621.4,151.7 622.5,152.2 623.6,152.7 624.7,153.2 625.8,153.7 626.9,154.2 628.0,154.7 629.1,155.2 630.2,155.7 631.3,156.2 632.4,156.7 633.6,157.2 634.7,157.7 635.8,158.2 636.9,158.7 638.0,159.2 639.1,159.7 640.2,160.3 641.4,160.8 642.6,161.4 643.8,161.9 645.0,162.5 646.1,163.0 647.2,163.5 648.1,164.0 649.0,164.5 650.1,165.1 651.0,165.6 651.8,166.1 652.4,166.5 652.9,166.9 653.4,167.5 654.1,168.2 654.6,169.0 655.1,169.8 655.6,170.7 656.0,171.8 656.3,172.7 656.7,173.7 656.9,174.8 657.2,176.0 657.5,177.2 657.7,178.4 657.9,179.4 658.0,180.5 658.2,181.7 658.3,182.9 658.4,184.0 658.5,185.2 658.7,186.3 658.8,187.4 659.0,188.6 659.1,189.7 659.3,190.8 659.5,191.9 659.7,192.9 660.1,194.0 660.6,195.1 661.1,196.0 661.6,196.9 662.2,197.8 662.8,198.6 663.5,199.4 664.1,200.1 664.7,200.9 665.5,201.7 666.3,202.8 666.8,203.5 667.5,204.4 668.1,205.3 668.8,206.3 669.5,207.3 670.3,208.4 671.0,209.5 671.8,210.6 672.5,211.7 673.2,212.7 674.0,213.8 674.8,214.9 675.6,216.1 676.4,217.3 677.2,218.5 678.0,219.7 678.8,220.8 679.5,221.9 680.1,222.8 680.7,223.7 681.6,225.0 682.3,226.0 683.0,226.9 683.5,227.7 683.9,228.3 684.2,228.7" stroke="#3d8cc8" stroke-width="1.48" fill="none" stroke-linejoin="round" clip-path="url(#cp)"/>
<rect x="457.8" y="35.2" width="132.59999999999997" height="78.0" fill="#fff"/>
<rect x="457.8" y="135.3" width="132.59999999999997" height="77.5" fill="#fff"/>
<line x1="471.06" y1="35.20" x2="471.06" y2="113.20" stroke="#e6e6e6" stroke-width="0.5" stroke-dasharray="1,1"/>
<line x1="471.06" y1="135.30" x2="471.06" y2="212.80" stroke="#e6e6e6" stroke-width="0.5" stroke-dasharray="1,1"/>
<line x1="484.32" y1="35.20" x2="484.32" y2="113.20" stroke="#e6e6e6" stroke-width="0.5" stroke-dasharray="1,1"/>
<line x1="484.32" y1="135.30" x2="484.32" y2="212.80" stroke="#e6e6e6" stroke-width="0.5" stroke-dasharray="1,1"/>
<line x1="497.58" y1="35.20" x2="497.58" y2="113.20" stroke="#e6e6e6" stroke-width="0.5" stroke-dasharray="1,1"/>
<line x1="497.58" y1="135.30" x2="497.58" y2="212.80" stroke="#e6e6e6" stroke-width="0.5" stroke-dasharray="1,1"/>
<line x1="510.84" y1="35.20" x2="510.84" y2="113.20" stroke="#e6e6e6" stroke-width="0.5" stroke-dasharray="1,1"/>
<line x1="510.84" y1="135.30" x2="510.84" y2="212.80" stroke="#e6e6e6" stroke-width="0.5" stroke-dasharray="1,1"/>
<line x1="524.10" y1="35.20" x2="524.10" y2="113.20" stroke="#e6e6e6" stroke-width="0.5" stroke-dasharray="1,1"/>
<line x1="524.10" y1="135.30" x2="524.10" y2="212.80" stroke="#e6e6e6" stroke-width="0.5" stroke-dasharray="1,1"/>
<line x1="537.36" y1="35.20" x2="537.36" y2="113.20" stroke="#e6e6e6" stroke-width="0.5" stroke-dasharray="1,1"/>
<line x1="537.36" y1="135.30" x2="537.36" y2="212.80" stroke="#e6e6e6" stroke-width="0.5" stroke-dasharray="1,1"/>
<line x1="550.62" y1="35.20" x2="550.62" y2="113.20" stroke="#e6e6e6" stroke-width="0.5" stroke-dasharray="1,1"/>
<line x1="550.62" y1="135.30" x2="550.62" y2="212.80" stroke="#e6e6e6" stroke-width="0.5" stroke-dasharray="1,1"/>
<line x1="563.88" y1="35.20" x2="563.88" y2="113.20" stroke="#e6e6e6" stroke-width="0.5" stroke-dasharray="1,1"/>
<line x1="563.88" y1="135.30" x2="563.88" y2="212.80" stroke="#e6e6e6" stroke-width="0.5" stroke-dasharray="1,1"/>
<line x1="577.14" y1="35.20" x2="577.14" y2="113.20" stroke="#e6e6e6" stroke-width="0.5" stroke-dasharray="1,1"/>
<line x1="577.14" y1="135.30" x2="577.14" y2="212.80" stroke="#e6e6e6" stroke-width="0.5" stroke-dasharray="1,1"/>
<line x1="457.80" y1="45.70" x2="590.40" y2="45.70" stroke="#d8d8d8" stroke-width="0.6"/>
<line x1="457.80" y1="104.00" x2="590.40" y2="104.00" stroke="#d8d8d8" stroke-width="0.6"/>
<line x1="457.80" y1="74.85" x2="590.40" y2="74.85" stroke="#e6e6e6" stroke-width="0.5" stroke-dasharray="1,1"/>
<line x1="457.80" y1="146.00" x2="590.40" y2="146.00" stroke="#d8d8d8" stroke-width="0.6"/>
<line x1="457.80" y1="191.20" x2="590.40" y2="191.20" stroke="#d8d8d8" stroke-width="0.6"/>
<line x1="457.80" y1="168.60" x2="590.40" y2="168.60" stroke="#e6e6e6" stroke-width="0.5" stroke-dasharray="1,1"/>
<clipPath id="cmi"><rect x="457.8" y="35.2" width="132.59999999999997" height="78.0"/></clipPath>
<clipPath id="cpi"><rect x="457.8" y="135.3" width="132.59999999999997" height="77.5"/></clipPath>
<line x1="418.80" y1="9.90" x2="647.60" y2="111.10" stroke="#404040" stroke-width="1.1" clip-path="url(#cmi)"/>
<line x1="409.35" y1="8.15" x2="650.75" y2="116.35" stroke="#f03a3a" stroke-width="1.1" clip-path="url(#cmi)"/>
<line x1="391.50" y1="20.05" x2="656.70" y2="136.65" stroke="#2fa463" stroke-width="1.1" clip-path="url(#cmi)"/>
<line x1="396.40" y1="25.10" x2="642.00" y2="142.30" stroke="#2f74d8" stroke-width="1.1" clip-path="url(#cmi)"/>
<line x1="402.50" y1="39.20" x2="623.70" y2="137.60" stroke="#b383ea" stroke-width="1.1" clip-path="url(#cmi)"/>
<line x1="431.65" y1="79.10" x2="536.25" y2="124.30" stroke="#cf9e1e" stroke-width="1.1" clip-path="url(#cmi)"/>
<line x1="402.75" y1="102.55" x2="652.95" y2="233.15" stroke="#2fa463" stroke-width="1.1" clip-path="url(#cpi)"/>
<line x1="404.85" y1="102.05" x2="652.25" y2="234.65" stroke="#cf9e1e" stroke-width="1.2" clip-path="url(#cpi)"/>
<line x1="433.35" y1="107.30" x2="642.75" y2="218.90" stroke="#b383ea" stroke-width="1.1" clip-path="url(#cpi)"/>
<line x1="402.50" y1="120.50" x2="623.70" y2="243.30" stroke="#3a3a3a" stroke-width="1.5" clip-path="url(#cpi)"/>
<line x1="402.50" y1="121.60" x2="623.70" y2="244.40" stroke="#f03a3a" stroke-width="1.1" clip-path="url(#cpi)"/>
<line x1="411.75" y1="136.65" x2="595.95" y2="238.45" stroke="#2f74d8" stroke-width="1.1" clip-path="url(#cpi)"/>
<rect x="457.80" y="35.20" width="132.60" height="78.00" stroke="#333" stroke-width="0.8" fill="none"/>
<rect x="457.80" y="135.30" width="132.60" height="77.50" stroke="#333" stroke-width="0.8" fill="none"/>
<line x1="457.80" y1="45.70" x2="459.80" y2="45.70" stroke="#333" stroke-width="0.7"/>
<line x1="457.80" y1="104.00" x2="459.80" y2="104.00" stroke="#333" stroke-width="0.7"/>
<line x1="457.80" y1="146.00" x2="459.80" y2="146.00" stroke="#333" stroke-width="0.7"/>
<line x1="457.80" y1="191.20" x2="459.80" y2="191.20" stroke="#333" stroke-width="0.7"/>
<text x="456.20" y="48.80" font-family='"Liberation Sans", sans-serif' font-size="8.7" text-anchor="end" fill="#000" font-weight="normal" font-style="normal">-2.7</text>
<text x="456.20" y="107.10" font-family='"Liberation Sans", sans-serif' font-size="8.7" text-anchor="end" fill="#000" font-weight="normal" font-style="normal">-3.0</text>
<text x="456.60" y="149.80" font-family='"Liberation Sans", sans-serif' font-size="8.7" text-anchor="end" fill="#000" font-weight="normal" font-style="normal">-112</text>
<text x="456.60" y="194.50" font-family='"Liberation Sans", sans-serif' font-size="8.7" text-anchor="end" fill="#000" font-weight="normal" font-style="normal">-114</text>
<text x="458.30" y="123.20" font-family='"Liberation Sans", sans-serif' font-size="8.7" text-anchor="middle" fill="#000" font-weight="normal" font-style="normal">29</text>
<text x="591.00" y="123.20" font-family='"Liberation Sans", sans-serif' font-size="8.7" text-anchor="middle" fill="#000" font-weight="normal" font-style="normal">30</text>
<text x="458.30" y="223.30" font-family='"Liberation Sans", sans-serif' font-size="8.7" text-anchor="middle" fill="#000" font-weight="normal" font-style="normal">29</text>
<text x="591.00" y="223.30" font-family='"Liberation Sans", sans-serif' font-size="8.7" text-anchor="middle" fill="#000" font-weight="normal" font-style="normal">30</text>
<rect x="608.80" y="28.00" width="6.80" height="16.80" stroke="#f7a030" stroke-width="1.25" fill="none" stroke-dasharray="5.6,4.4"/>
<line x1="608.80" y1="28.00" x2="590.40" y2="35.30" stroke="#f7a030" stroke-width="1.25" stroke-dasharray="5.6,4.4"/>
<line x1="608.80" y1="44.80" x2="590.40" y2="113.20" stroke="#f7a030" stroke-width="1.25" stroke-dasharray="5.6,4.4"/>
<rect x="609.30" y="137.40" width="7.30" height="16.70" stroke="#f7a030" stroke-width="1.25" fill="none" stroke-dasharray="5.6,4.4"/>
<line x1="609.30" y1="137.40" x2="590.40" y2="135.30" stroke="#f7a030" stroke-width="1.25" stroke-dasharray="5.6,4.4"/>
<line x1="609.30" y1="154.10" x2="590.40" y2="212.80" stroke="#f7a030" stroke-width="1.25" stroke-dasharray="5.6,4.4"/>
<line x1="435.50" y1="24.50" x2="435.50" y2="125.00" stroke="#1e1e1e" stroke-width="1.0"/>
<line x1="435.50" y1="25.00" x2="684.60" y2="25.00" stroke="#1e1e1e" stroke-width="1.0"/>
<line x1="435.50" y1="124.50" x2="684.60" y2="124.50" stroke="#3a3a3a" stroke-width="1.0"/>
<line x1="684.60" y1="25.00" x2="684.60" y2="124.50" stroke="#1e1e1e" stroke-width="1.0"/>
<line x1="435.60" y1="124.50" x2="435.60" y2="121.90" stroke="#262626" stroke-width="0.7"/>
<line x1="435.60" y1="25.00" x2="435.60" y2="27.60" stroke="#262626" stroke-width="0.7"/>
<line x1="457.18" y1="124.50" x2="457.18" y2="122.90" stroke="#262626" stroke-width="0.7"/>
<line x1="457.18" y1="25.00" x2="457.18" y2="26.60" stroke="#262626" stroke-width="0.7"/>
<line x1="469.81" y1="124.50" x2="469.81" y2="122.90" stroke="#262626" stroke-width="0.7"/>
<line x1="469.81" y1="25.00" x2="469.81" y2="26.60" stroke="#262626" stroke-width="0.7"/>
<line x1="478.77" y1="124.50" x2="478.77" y2="122.90" stroke="#262626" stroke-width="0.7"/>
<line x1="478.77" y1="25.00" x2="478.77" y2="26.60" stroke="#262626" stroke-width="0.7"/>
<line x1="485.72" y1="124.50" x2="485.72" y2="122.90" stroke="#262626" stroke-width="0.7"/>
<line x1="485.72" y1="25.00" x2="485.72" y2="26.60" stroke="#262626" stroke-width="0.7"/>
<line x1="491.39" y1="124.50" x2="491.39" y2="122.90" stroke="#262626" stroke-width="0.7"/>
<line x1="491.39" y1="25.00" x2="491.39" y2="26.60" stroke="#262626" stroke-width="0.7"/>
<line x1="496.19" y1="124.50" x2="496.19" y2="122.90" stroke="#262626" stroke-width="0.7"/>
<line x1="496.19" y1="25.00" x2="496.19" y2="26.60" stroke="#262626" stroke-width="0.7"/>
<line x1="500.35" y1="124.50" x2="500.35" y2="122.90" stroke="#262626" stroke-width="0.7"/>
<line x1="500.35" y1="25.00" x2="500.35" y2="26.60" stroke="#262626" stroke-width="0.7"/>
<line x1="504.02" y1="124.50" x2="504.02" y2="122.90" stroke="#262626" stroke-width="0.7"/>
<line x1="504.02" y1="25.00" x2="504.02" y2="26.60" stroke="#262626" stroke-width="0.7"/>
<line x1="507.30" y1="124.50" x2="507.30" y2="121.90" stroke="#262626" stroke-width="0.7"/>
<line x1="507.30" y1="25.00" x2="507.30" y2="27.60" stroke="#262626" stroke-width="0.7"/>
<line x1="528.88" y1="124.50" x2="528.88" y2="122.90" stroke="#262626" stroke-width="0.7"/>
<line x1="528.88" y1="25.00" x2="528.88" y2="26.60" stroke="#262626" stroke-width="0.7"/>
<line x1="541.51" y1="124.50" x2="541.51" y2="122.90" stroke="#262626" stroke-width="0.7"/>
<line x1="541.51" y1="25.00" x2="541.51" y2="26.60" stroke="#262626" stroke-width="0.7"/>
<line x1="550.47" y1="124.50" x2="550.47" y2="122.90" stroke="#262626" stroke-width="0.7"/>
<line x1="550.47" y1="25.00" x2="550.47" y2="26.60" stroke="#262626" stroke-width="0.7"/>
<line x1="557.42" y1="124.50" x2="557.42" y2="122.90" stroke="#262626" stroke-width="0.7"/>
<line x1="557.42" y1="25.00" x2="557.42" y2="26.60" stroke="#262626" stroke-width="0.7"/>
<line x1="563.09" y1="124.50" x2="563.09" y2="122.90" stroke="#262626" stroke-width="0.7"/>
<line x1="563.09" y1="25.00" x2="563.09" y2="26.60" stroke="#262626" stroke-width="0.7"/>
<line x1="567.89" y1="124.50" x2="567.89" y2="122.90" stroke="#262626" stroke-width="0.7"/>
<line x1="567.89" y1="25.00" x2="567.89" y2="26.60" stroke="#262626" stroke-width="0.7"/>
<line x1="572.05" y1="124.50" x2="572.05" y2="122.90" stroke="#262626" stroke-width="0.7"/>
<line x1="572.05" y1="25.00" x2="572.05" y2="26.60" stroke="#262626" stroke-width="0.7"/>
<line x1="575.72" y1="124.50" x2="575.72" y2="122.90" stroke="#262626" stroke-width="0.7"/>
<line x1="575.72" y1="25.00" x2="575.72" y2="26.60" stroke="#262626" stroke-width="0.7"/>
<line x1="579.00" y1="124.50" x2="579.00" y2="121.90" stroke="#262626" stroke-width="0.7"/>
<line x1="579.00" y1="25.00" x2="579.00" y2="27.60" stroke="#262626" stroke-width="0.7"/>
<line x1="600.58" y1="124.50" x2="600.58" y2="122.90" stroke="#262626" stroke-width="0.7"/>
<line x1="600.58" y1="25.00" x2="600.58" y2="26.60" stroke="#262626" stroke-width="0.7"/>
<line x1="613.21" y1="124.50" x2="613.21" y2="122.90" stroke="#262626" stroke-width="0.7"/>
<line x1="613.21" y1="25.00" x2="613.21" y2="26.60" stroke="#262626" stroke-width="0.7"/>
<line x1="622.17" y1="124.50" x2="622.17" y2="122.90" stroke="#262626" stroke-width="0.7"/>
<line x1="622.17" y1="25.00" x2="622.17" y2="26.60" stroke="#262626" stroke-width="0.7"/>
<line x1="629.12" y1="124.50" x2="629.12" y2="122.90" stroke="#262626" stroke-width="0.7"/>
<line x1="629.12" y1="25.00" x2="629.12" y2="26.60" stroke="#262626" stroke-width="0.7"/>
<line x1="634.79" y1="124.50" x2="634.79" y2="122.90" stroke="#262626" stroke-width="0.7"/>
<line x1="634.79" y1="25.00" x2="634.79" y2="26.60" stroke="#262626" stroke-width="0.7"/>
<line x1="639.59" y1="124.50" x2="639.59" y2="122.90" stroke="#262626" stroke-width="0.7"/>
<line x1="639.59" y1="25.00" x2="639.59" y2="26.60" stroke="#262626" stroke-width="0.7"/>
<line x1="643.75" y1="124.50" x2="643.75" y2="122.90" stroke="#262626" stroke-width="0.7"/>
<line x1="643.75" y1="25.00" x2="643.75" y2="26.60" stroke="#262626" stroke-width="0.7"/>
<line x1="647.42" y1="124.50" x2="647.42" y2="122.90" stroke="#262626" stroke-width="0.7"/>
<line x1="647.42" y1="25.00" x2="647.42" y2="26.60" stroke="#262626" stroke-width="0.7"/>
<line x1="650.70" y1="124.50" x2="650.70" y2="121.90" stroke="#262626" stroke-width="0.7"/>
<line x1="650.70" y1="25.00" x2="650.70" y2="27.60" stroke="#262626" stroke-width="0.7"/>
<line x1="672.28" y1="124.50" x2="672.28" y2="122.90" stroke="#262626" stroke-width="0.7"/>
<line x1="672.28" y1="25.00" x2="672.28" y2="26.60" stroke="#262626" stroke-width="0.7"/>
<line x1="435.50" y1="124.80" x2="435.50" y2="225.00" stroke="#1e1e1e" stroke-width="1.0"/>
<line x1="435.50" y1="125.30" x2="684.60" y2="125.30" stroke="#5a5a5a" stroke-width="1.0"/>
<line x1="435.50" y1="224.50" x2="684.60" y2="224.50" stroke="#1e1e1e" stroke-width="1.0"/>
<line x1="684.60" y1="125.30" x2="684.60" y2="224.50" stroke="#1e1e1e" stroke-width="1.0"/>
<line x1="435.60" y1="224.50" x2="435.60" y2="221.90" stroke="#262626" stroke-width="0.7"/>
<line x1="457.18" y1="224.50" x2="457.18" y2="222.90" stroke="#262626" stroke-width="0.7"/>
<line x1="469.81" y1="224.50" x2="469.81" y2="222.90" stroke="#262626" stroke-width="0.7"/>
<line x1="478.77" y1="224.50" x2="478.77" y2="222.90" stroke="#262626" stroke-width="0.7"/>
<line x1="485.72" y1="224.50" x2="485.72" y2="222.90" stroke="#262626" stroke-width="0.7"/>
<line x1="491.39" y1="224.50" x2="491.39" y2="222.90" stroke="#262626" stroke-width="0.7"/>
<line x1="496.19" y1="224.50" x2="496.19" y2="222.90" stroke="#262626" stroke-width="0.7"/>
<line x1="500.35" y1="224.50" x2="500.35" y2="222.90" stroke="#262626" stroke-width="0.7"/>
<line x1="504.02" y1="224.50" x2="504.02" y2="222.90" stroke="#262626" stroke-width="0.7"/>
<line x1="507.30" y1="224.50" x2="507.30" y2="221.90" stroke="#262626" stroke-width="0.7"/>
<line x1="528.88" y1="224.50" x2="528.88" y2="222.90" stroke="#262626" stroke-width="0.7"/>
<line x1="541.51" y1="224.50" x2="541.51" y2="222.90" stroke="#262626" stroke-width="0.7"/>
<line x1="550.47" y1="224.50" x2="550.47" y2="222.90" stroke="#262626" stroke-width="0.7"/>
<line x1="557.42" y1="224.50" x2="557.42" y2="222.90" stroke="#262626" stroke-width="0.7"/>
<line x1="563.09" y1="224.50" x2="563.09" y2="222.90" stroke="#262626" stroke-width="0.7"/>
<line x1="567.89" y1="224.50" x2="567.89" y2="222.90" stroke="#262626" stroke-width="0.7"/>
<line x1="572.05" y1="224.50" x2="572.05" y2="222.90" stroke="#262626" stroke-width="0.7"/>
<line x1="575.72" y1="224.50" x2="575.72" y2="222.90" stroke="#262626" stroke-width="0.7"/>
<line x1="579.00" y1="224.50" x2="579.00" y2="221.90" stroke="#262626" stroke-width="0.7"/>
<line x1="600.58" y1="224.50" x2="600.58" y2="222.90" stroke="#262626" stroke-width="0.7"/>
<line x1="613.21" y1="224.50" x2="613.21" y2="222.90" stroke="#262626" stroke-width="0.7"/>
<line x1="622.17" y1="224.50" x2="622.17" y2="222.90" stroke="#262626" stroke-width="0.7"/>
<line x1="629.12" y1="224.50" x2="629.12" y2="222.90" stroke="#262626" stroke-width="0.7"/>
<line x1="634.79" y1="224.50" x2="634.79" y2="222.90" stroke="#262626" stroke-width="0.7"/>
<line x1="639.59" y1="224.50" x2="639.59" y2="222.90" stroke="#262626" stroke-width="0.7"/>
<line x1="643.75" y1="224.50" x2="643.75" y2="222.90" stroke="#262626" stroke-width="0.7"/>
<line x1="647.42" y1="224.50" x2="647.42" y2="222.90" stroke="#262626" stroke-width="0.7"/>
<line x1="650.70" y1="224.50" x2="650.70" y2="221.90" stroke="#262626" stroke-width="0.7"/>
<line x1="672.28" y1="224.50" x2="672.28" y2="222.90" stroke="#262626" stroke-width="0.7"/>
<line x1="435.50" y1="30.50" x2="438.00" y2="30.50" stroke="#262626" stroke-width="0.8"/>
<line x1="435.50" y1="55.25" x2="438.00" y2="55.25" stroke="#262626" stroke-width="0.8"/>
<line x1="435.50" y1="80.00" x2="438.00" y2="80.00" stroke="#262626" stroke-width="0.8"/>
<line x1="435.50" y1="104.75" x2="438.00" y2="104.75" stroke="#262626" stroke-width="0.8"/>
<line x1="435.50" y1="130.00" x2="438.00" y2="130.00" stroke="#262626" stroke-width="0.8"/>
<line x1="435.50" y1="154.85" x2="438.00" y2="154.85" stroke="#262626" stroke-width="0.8"/>
<line x1="435.50" y1="179.70" x2="438.00" y2="179.70" stroke="#262626" stroke-width="0.8"/>
<line x1="435.50" y1="204.55" x2="438.00" y2="204.55" stroke="#262626" stroke-width="0.8"/>
<text x="429.80" y="34.70" font-family='"Liberation Sans", sans-serif' font-size="10.3" text-anchor="end" fill="#000" font-weight="normal" font-style="normal">0</text>
<text x="429.80" y="59.45" font-family='"Liberation Sans", sans-serif' font-size="10.3" text-anchor="end" fill="#000" font-weight="normal" font-style="normal">-13</text>
<text x="429.80" y="84.20" font-family='"Liberation Sans", sans-serif' font-size="10.3" text-anchor="end" fill="#000" font-weight="normal" font-style="normal">-26</text>
<text x="429.80" y="108.95" font-family='"Liberation Sans", sans-serif' font-size="10.3" text-anchor="end" fill="#000" font-weight="normal" font-style="normal">-39</text>
<text x="429.80" y="134.20" font-family='"Liberation Sans", sans-serif' font-size="10.3" text-anchor="end" fill="#000" font-weight="normal" font-style="normal">0</text>
<text x="429.80" y="159.05" font-family='"Liberation Sans", sans-serif' font-size="10.3" text-anchor="end" fill="#000" font-weight="normal" font-style="normal">-170</text>
<text x="429.80" y="183.90" font-family='"Liberation Sans", sans-serif' font-size="10.3" text-anchor="end" fill="#000" font-weight="normal" font-style="normal">-340</text>
<text x="429.80" y="208.75" font-family='"Liberation Sans", sans-serif' font-size="10.3" text-anchor="end" fill="#000" font-weight="normal" font-style="normal">-510</text>
<text x="435.60" y="239.20" font-family='"Liberation Sans", sans-serif' font-size="10.3" text-anchor="middle" fill="#000" font-weight="normal" font-style="normal">0.1</text>
<text x="507.30" y="239.20" font-family='"Liberation Sans", sans-serif' font-size="10.3" text-anchor="middle" fill="#000" font-weight="normal" font-style="normal">1</text>
<text x="579.00" y="239.20" font-family='"Liberation Sans", sans-serif' font-size="10.3" text-anchor="middle" fill="#000" font-weight="normal" font-style="normal">10</text>
<text x="650.70" y="239.20" font-family='"Liberation Sans", sans-serif' font-size="10.3" text-anchor="middle" fill="#000" font-weight="normal" font-style="normal">100</text>
<text x="560.00" y="255.80" font-family='"Liberation Sans", sans-serif' font-size="10.3" text-anchor="middle" fill="#000" font-weight="normal" font-style="normal">Frequency (Hz)</text>
<text x="400.30" y="76.00" font-family='"Liberation Sans", sans-serif' font-size="10.3" text-anchor="middle" fill="#000" font-weight="normal" font-style="normal" transform="rotate(-90 400.3 76.0)">Magnitude (dB)</text>
<text x="400.30" y="176.00" font-family='"Liberation Sans", sans-serif' font-size="10.3" text-anchor="middle" fill="#000" font-weight="normal" font-style="normal" transform="rotate(-90 400.3 176.0)">Phase (degree)</text>
<rect x="435.3" y="22.3" width="249.7" height="2.3" fill="#d0d0d0"/>
<rect x="435.3" y="3.3" width="248.90000000000003" height="19.0" fill="#fff" stroke="#8a8a8a" stroke-width="0.8"/>
<line x1="441.40" y1="5.50" x2="441.40" y2="20.60" stroke="#404040" stroke-width="1.6"/>
<text transform="translate(447.00,9.55) scale(1.3,1)" font-family='"Liberation Sans", sans-serif' font-size="7.5" fill="#6a6a6a" font-style="italic">φ</text>
<text x="452.20" y="12.30" font-family='"Liberation Sans", sans-serif' font-size="4.3" fill="#6a6a6a" textLength="6.4" lengthAdjust="spacingAndGlyphs">yet1</text>
<text x="459.30" y="10.20" font-family='"Liberation Sans", sans-serif' font-size="7.1" fill="#6a6a6a">=0<tspan font-size="4.0" dy="-3.3" dx="0.4">o</tspan></text>
<text transform="translate(447.00,17.65) scale(1.3,1)" font-family='"Liberation Sans", sans-serif' font-size="7.5" fill="#6a6a6a" font-style="italic">φ</text>
<text x="452.20" y="20.40" font-family='"Liberation Sans", sans-serif' font-size="4.3" fill="#6a6a6a" textLength="6.4" lengthAdjust="spacingAndGlyphs">yet2</text>
<text x="459.30" y="18.30" font-family='"Liberation Sans", sans-serif' font-size="7.1" fill="#6a6a6a">=0<tspan font-size="4.0" dy="-3.3" dx="0.4">o</tspan></text>
<line x1="480.20" y1="5.50" x2="480.20" y2="20.60" stroke="#f03a3a" stroke-width="1.6"/>
<text transform="translate(485.80,9.55) scale(1.3,1)" font-family='"Liberation Sans", sans-serif' font-size="7.5" fill="#f03a3a" font-style="italic">φ</text>
<text x="491.00" y="12.30" font-family='"Liberation Sans", sans-serif' font-size="4.3" fill="#f03a3a" textLength="6.4" lengthAdjust="spacingAndGlyphs">yet1</text>
<text x="498.10" y="10.20" font-family='"Liberation Sans", sans-serif' font-size="7.1" fill="#f03a3a">=-3<tspan font-size="4.0" dy="-3.3" dx="0.4">o</tspan></text>
<text transform="translate(485.80,17.65) scale(1.3,1)" font-family='"Liberation Sans", sans-serif' font-size="7.5" fill="#f03a3a" font-style="italic">φ</text>
<text x="491.00" y="20.40" font-family='"Liberation Sans", sans-serif' font-size="4.3" fill="#f03a3a" textLength="6.4" lengthAdjust="spacingAndGlyphs">yet2</text>
<text x="498.10" y="18.30" font-family='"Liberation Sans", sans-serif' font-size="7.1" fill="#f03a3a">=0<tspan font-size="4.0" dy="-3.3" dx="0.4">o</tspan></text>
<line x1="521.80" y1="5.50" x2="521.80" y2="20.60" stroke="#2f74d8" stroke-width="1.6"/>
<text transform="translate(527.40,9.55) scale(1.3,1)" font-family='"Liberation Sans", sans-serif' font-size="7.5" fill="#2f74d8" font-style="italic">φ</text>
<text x="532.60" y="12.30" font-family='"Liberation Sans", sans-serif' font-size="4.3" fill="#2f74d8" textLength="6.4" lengthAdjust="spacingAndGlyphs">yet1</text>
<text x="539.70" y="10.20" font-family='"Liberation Sans", sans-serif' font-size="7.1" fill="#2f74d8">=-9<tspan font-size="4.0" dy="-3.3" dx="0.4">o</tspan></text>
<text transform="translate(527.40,17.65) scale(1.3,1)" font-family='"Liberation Sans", sans-serif' font-size="7.5" fill="#2f74d8" font-style="italic">φ</text>
<text x="532.60" y="20.40" font-family='"Liberation Sans", sans-serif' font-size="4.3" fill="#2f74d8" textLength="6.4" lengthAdjust="spacingAndGlyphs">yet2</text>
<text x="539.70" y="18.30" font-family='"Liberation Sans", sans-serif' font-size="7.1" fill="#2f74d8">=0<tspan font-size="4.0" dy="-3.3" dx="0.4">o</tspan></text>
<line x1="563.60" y1="5.50" x2="563.60" y2="20.60" stroke="#2fa463" stroke-width="1.6"/>
<text transform="translate(569.20,9.55) scale(1.3,1)" font-family='"Liberation Sans", sans-serif' font-size="7.5" fill="#2fa463" font-style="italic">φ</text>
<text x="574.40" y="12.30" font-family='"Liberation Sans", sans-serif' font-size="4.3" fill="#2fa463" textLength="6.4" lengthAdjust="spacingAndGlyphs">yet1</text>
<text x="581.50" y="10.20" font-family='"Liberation Sans", sans-serif' font-size="7.1" fill="#2fa463">=0<tspan font-size="4.0" dy="-3.3" dx="0.4">o</tspan></text>
<text transform="translate(569.20,17.65) scale(1.3,1)" font-family='"Liberation Sans", sans-serif' font-size="7.5" fill="#2fa463" font-style="italic">φ</text>
<text x="574.40" y="20.40" font-family='"Liberation Sans", sans-serif' font-size="4.3" fill="#2fa463" textLength="6.4" lengthAdjust="spacingAndGlyphs">yet2</text>
<text x="581.50" y="18.30" font-family='"Liberation Sans", sans-serif' font-size="7.1" fill="#2fa463">=-4<tspan font-size="4.0" dy="-3.3" dx="0.4">o</tspan></text>
<line x1="605.60" y1="5.50" x2="605.60" y2="20.60" stroke="#b383ea" stroke-width="1.6"/>
<text transform="translate(611.20,9.55) scale(1.3,1)" font-family='"Liberation Sans", sans-serif' font-size="7.5" fill="#b383ea" font-style="italic">φ</text>
<text x="616.40" y="12.30" font-family='"Liberation Sans", sans-serif' font-size="4.3" fill="#b383ea" textLength="6.4" lengthAdjust="spacingAndGlyphs">yet1</text>
<text x="623.50" y="10.20" font-family='"Liberation Sans", sans-serif' font-size="7.1" fill="#b383ea">=0<tspan font-size="4.0" dy="-3.3" dx="0.4">o</tspan></text>
<text transform="translate(611.20,17.65) scale(1.3,1)" font-family='"Liberation Sans", sans-serif' font-size="7.5" fill="#b383ea" font-style="italic">φ</text>
<text x="616.40" y="20.40" font-family='"Liberation Sans", sans-serif' font-size="4.3" fill="#b383ea" textLength="6.4" lengthAdjust="spacingAndGlyphs">yet2</text>
<text x="623.50" y="18.30" font-family='"Liberation Sans", sans-serif' font-size="7.1" fill="#b383ea">=-6<tspan font-size="4.0" dy="-3.3" dx="0.4">o</tspan></text>
<line x1="647.00" y1="5.50" x2="647.00" y2="20.60" stroke="#cf9e1e" stroke-width="1.6"/>
<text transform="translate(652.60,9.55) scale(1.3,1)" font-family='"Liberation Sans", sans-serif' font-size="7.5" fill="#cf9e1e" font-style="italic">φ</text>
<text x="657.80" y="12.30" font-family='"Liberation Sans", sans-serif' font-size="4.3" fill="#cf9e1e" textLength="6.4" lengthAdjust="spacingAndGlyphs">yet1</text>
<text x="664.90" y="10.20" font-family='"Liberation Sans", sans-serif' font-size="7.1" fill="#cf9e1e">=-9<tspan font-size="4.0" dy="-3.3" dx="0.4">o</tspan></text>
<text transform="translate(652.60,17.65) scale(1.3,1)" font-family='"Liberation Sans", sans-serif' font-size="7.5" fill="#cf9e1e" font-style="italic">φ</text>
<text x="657.80" y="20.40" font-family='"Liberation Sans", sans-serif' font-size="4.3" fill="#cf9e1e" textLength="6.4" lengthAdjust="spacingAndGlyphs">yet2</text>
<text x="664.90" y="18.30" font-family='"Liberation Sans", sans-serif' font-size="7.1" fill="#cf9e1e">=-6<tspan font-size="4.0" dy="-3.3" dx="0.4">o</tspan></text>
<text x="-0.70" y="11.00" font-family='"Liberation Sans", sans-serif' font-size="16.2" text-anchor="start" fill="#000" font-weight="bold" font-style="normal">a</text>
<text x="389.90" y="11.00" font-family='"Liberation Sans", sans-serif' font-size="16.2" text-anchor="start" fill="#000" font-weight="bold" font-style="normal">b</text>
</svg>
</body></html>
